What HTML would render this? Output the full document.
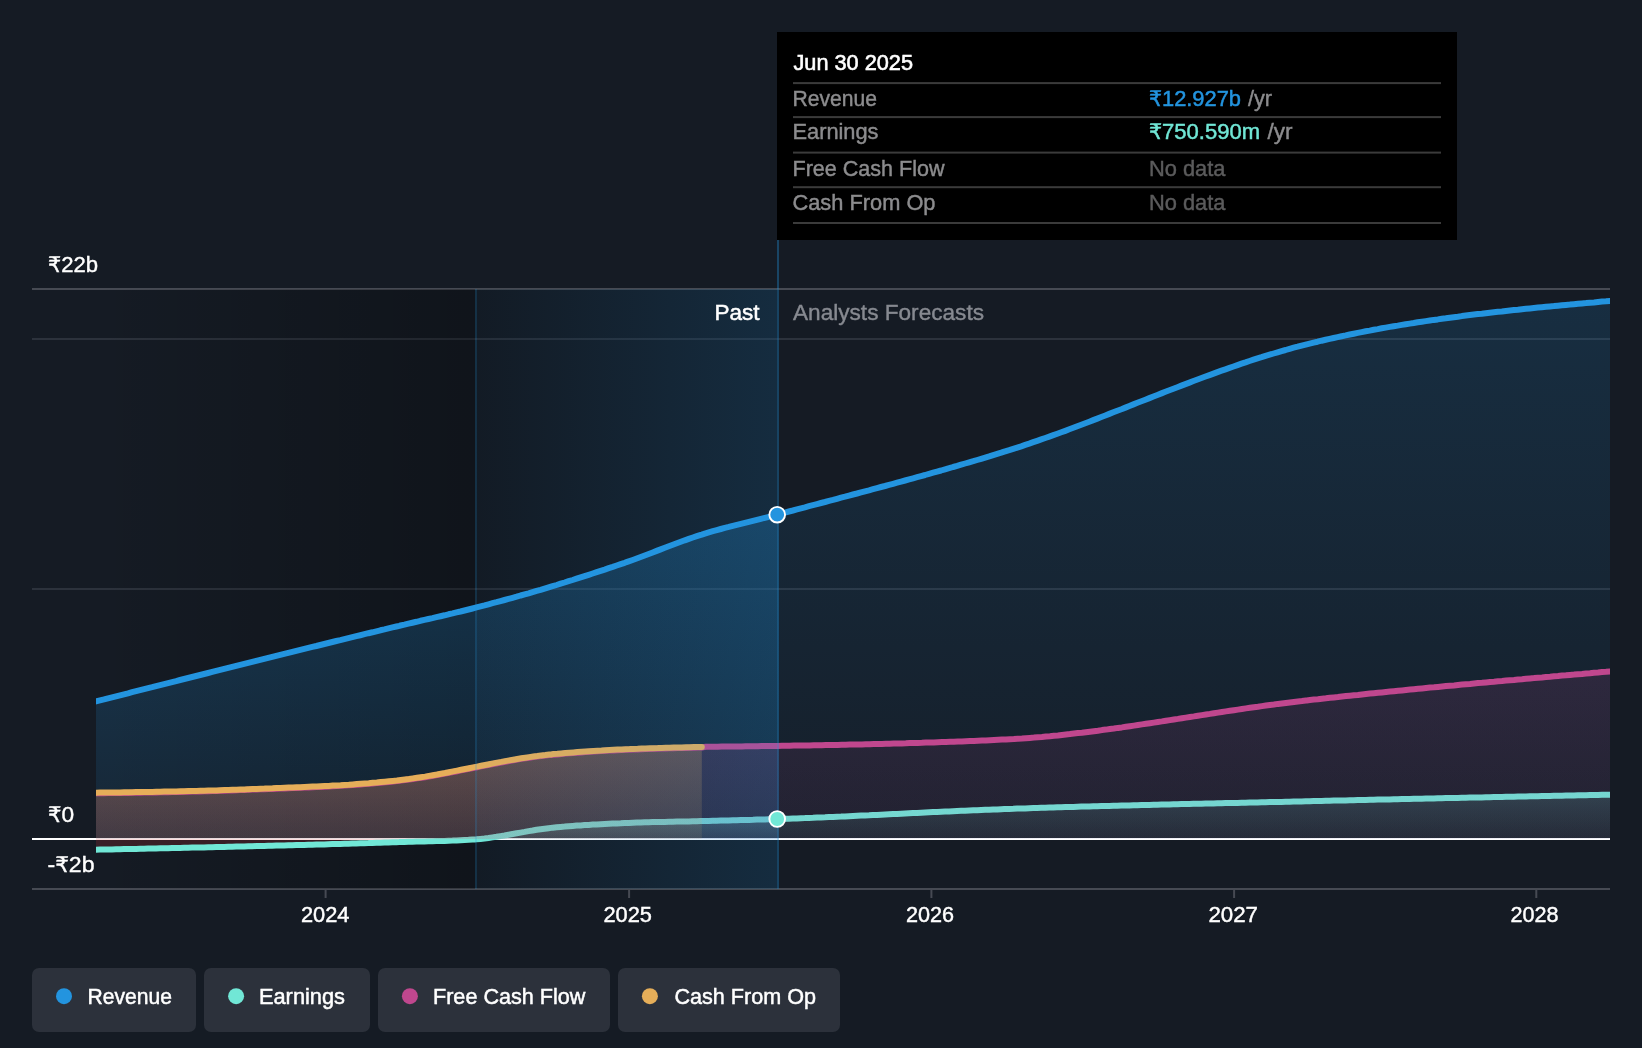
<!DOCTYPE html>
<html lang="en"><head><meta charset="utf-8"><title>Earnings and Revenue Growth Forecasts</title>
<style>html,body{margin:0;padding:0;background:#151b24;overflow:hidden}svg{display:block}text{white-space:pre}</style>
</head><body>
<svg width="1642" height="1048" viewBox="0 0 1642 1048" font-family="'Liberation Sans','DejaVu Sans',sans-serif">
<defs>
<linearGradient id="gRevP" gradientUnits="userSpaceOnUse" x1="0" y1="515" x2="0" y2="839"><stop offset="0" stop-color="#2394df" stop-opacity="0.27"/><stop offset="1" stop-color="#2394df" stop-opacity="0.09"/></linearGradient>
<linearGradient id="gRevF" gradientUnits="userSpaceOnUse" x1="0" y1="301" x2="0" y2="839"><stop offset="0" stop-color="#2394df" stop-opacity="0.155"/><stop offset="1" stop-color="#2394df" stop-opacity="0.03"/></linearGradient>
<linearGradient id="gFcfP" gradientUnits="userSpaceOnUse" x1="0" y1="747" x2="0" y2="839"><stop offset="0" stop-color="#c0478e" stop-opacity="0.2"/><stop offset="1" stop-color="#c0478e" stop-opacity="0.13"/></linearGradient>
<linearGradient id="gFcfF" gradientUnits="userSpaceOnUse" x1="0" y1="671" x2="0" y2="839"><stop offset="0" stop-color="#c0478e" stop-opacity="0.14"/><stop offset="1" stop-color="#c0478e" stop-opacity="0.07"/></linearGradient>
<linearGradient id="gOpP" gradientUnits="userSpaceOnUse" x1="0" y1="747" x2="0" y2="839"><stop offset="0" stop-color="#e6ae59" stop-opacity="0.25"/><stop offset="1" stop-color="#e6ae59" stop-opacity="0.12"/></linearGradient>
<linearGradient id="gEarnP" gradientUnits="userSpaceOnUse" x1="0" y1="819" x2="0" y2="839"><stop offset="0" stop-color="#71e7d6" stop-opacity="0.25"/><stop offset="1" stop-color="#71e7d6" stop-opacity="0.1"/></linearGradient>
<linearGradient id="gEarnF" gradientUnits="userSpaceOnUse" x1="0" y1="794" x2="0" y2="839"><stop offset="0" stop-color="#71e7d6" stop-opacity="0.17"/><stop offset="1" stop-color="#71e7d6" stop-opacity="0.05"/></linearGradient>
<linearGradient id="gPast" x1="0" y1="0" x2="1" y2="0"><stop offset="0" stop-color="#000" stop-opacity="0"/><stop offset="1" stop-color="#000" stop-opacity="0.26"/></linearGradient>
<linearGradient id="gHi" x1="0" y1="0" x2="1" y2="0"><stop offset="0" stop-color="#2394df" stop-opacity="0.03"/><stop offset="1" stop-color="#2394df" stop-opacity="0.17"/></linearGradient>
<clipPath id="cpPast"><rect x="0" y="0" width="778.5" height="1048"/></clipPath>
<clipPath id="cpFore"><rect x="778.5" y="0" width="1642" height="1048"/></clipPath>
<clipPath id="cpPastPos"><rect x="0" y="0" width="778.5" height="839"/></clipPath>
<clipPath id="cpForePos"><rect x="778.5" y="0" width="1642" height="839"/></clipPath>
<clipPath id="cpData"><rect x="96" y="0" width="1514" height="1048"/></clipPath>
<clipPath id="cpNeg"><rect x="0" y="839" width="1642" height="100"/></clipPath>
<filter id="noop" filterUnits="userSpaceOnUse" x="0" y="0" width="1642" height="1048"><feOffset dx="0" dy="0"/></filter>
</defs>
<rect width="1642" height="1048" fill="#151b24"/>
<g id="grid"><rect x="32" y="288" width="1578" height="2" fill="#464a53"/>
<rect x="32" y="338" width="1578" height="2" fill="#2c323c"/>
<rect x="32" y="588" width="1578" height="2" fill="#2c323c"/>
<rect x="32" y="888" width="1578" height="2" fill="#464a53"/>
<rect x="324.6" y="889" width="2" height="9" fill="#464a53"/>
<rect x="628.1" y="889" width="2" height="9" fill="#464a53"/>
<rect x="930.4" y="889" width="2" height="9" fill="#464a53"/>
<rect x="1233.1" y="889" width="2" height="9" fill="#464a53"/>
<rect x="1535.3" y="889" width="2" height="9" fill="#464a53"/>
</g>
<rect x="96" y="289" width="379" height="600" fill="url(#gPast)"/>
<rect x="475" y="289" width="304" height="600" fill="#000" fill-opacity="0.12"/>
<rect x="32" y="838" width="1578" height="2" fill="#ffffff"/>
<g id="earnings" clip-path="url(#cpData)">
<path d="M96.0,849.7 L100.0,849.6 L104.0,849.5 L108.0,849.5 L112.0,849.4 L116.0,849.3 L120.0,849.2 L124.0,849.1 L128.0,849.0 L132.0,849.0 L136.1,848.9 L140.1,848.8 L144.1,848.7 L148.1,848.6 L152.1,848.5 L156.1,848.4 L160.1,848.3 L164.1,848.3 L168.1,848.2 L172.1,848.1 L176.1,848.0 L180.1,847.9 L184.1,847.8 L188.1,847.7 L192.1,847.6 L196.1,847.6 L200.1,847.5 L204.1,847.4 L208.1,847.3 L212.2,847.2 L216.2,847.1 L220.2,847.0 L224.2,846.9 L228.2,846.8 L232.2,846.7 L236.2,846.6 L240.2,846.5 L244.2,846.4 L248.2,846.3 L252.2,846.2 L256.2,846.1 L260.2,846.0 L264.2,845.9 L268.2,845.8 L272.2,845.7 L276.2,845.6 L280.2,845.5 L284.2,845.4 L288.3,845.3 L292.3,845.2 L296.3,845.1 L300.3,845.0 L304.3,844.9 L308.3,844.8 L312.3,844.7 L316.3,844.6 L320.3,844.5 L324.3,844.4 L328.3,844.2 L332.3,844.1 L336.3,844.0 L340.3,843.9 L344.3,843.8 L348.3,843.7 L352.3,843.5 L356.3,843.4 L360.3,843.3 L364.4,843.2 L368.4,843.1 L372.4,842.9 L376.4,842.8 L380.4,842.7 L384.4,842.5 L388.4,842.4 L392.4,842.3 L396.4,842.2 L399.3,842.1 L400.4,842.0 L404.4,841.9 L408.4,841.8 L412.4,841.7 L416.4,841.6 L420.4,841.5 L424.4,841.4 L428.4,841.3 L432.4,841.2 L436.4,841.1 L440.5,841.0 L444.5,840.9 L448.5,840.7 L452.5,840.6 L456.5,840.4 L460.5,840.2 L464.5,840.0 L468.5,839.8 L472.5,839.5 L474.7,839.4 L476.5,839.3 L480.5,838.9 L484.5,838.5 L488.5,838.0 L492.5,837.4 L496.5,836.8 L500.5,836.1 L504.5,835.5 L508.5,834.8 L512.6,834.0 L516.6,833.3 L520.6,832.6 L524.6,831.9 L528.6,831.1 L532.6,830.5 L536.6,829.8 L540.6,829.2 L544.6,828.7 L548.6,828.2 L550.9,827.9 L552.6,827.7 L556.6,827.3 L560.6,826.9 L564.6,826.6 L568.6,826.2 L572.6,825.9 L576.6,825.6 L580.6,825.4 L584.6,825.1 L588.7,824.9 L592.7,824.6 L596.7,824.4 L600.7,824.2 L604.7,824.0 L608.7,823.8 L612.7,823.6 L616.7,823.4 L620.7,823.3 L624.7,823.1 L627.2,823.0 L628.7,822.9 L632.7,822.7 L636.7,822.6 L640.7,822.5 L644.7,822.3 L648.7,822.2 L652.7,822.1 L656.7,822.0 L660.7,821.9 L664.8,821.9 L668.8,821.8 L672.8,821.7 L676.8,821.6 L680.8,821.5 L684.8,821.5 L688.8,821.4 L692.8,821.3 L696.8,821.2 L700.8,821.1 L701.8,821.1 L704.8,821.0 L708.8,820.9 L712.8,820.8 L716.8,820.7 L720.8,820.6 L724.8,820.5 L728.8,820.4 L732.8,820.3 L736.8,820.2 L740.9,820.1 L744.9,820.0 L748.9,819.9 L752.9,819.8 L756.9,819.6 L760.9,819.5 L764.9,819.4 L768.9,819.3 L772.9,819.2 L776.9,819.1 L777.2,819.0 L780.9,818.9 L784.9,818.8 L788.9,818.7 L792.9,818.5 L796.9,818.4 L800.9,818.2 L804.9,818.1 L808.9,817.9 L812.9,817.8 L817.0,817.6 L821.0,817.4 L825.0,817.3 L829.0,817.1 L833.0,816.9 L837.0,816.7 L841.0,816.6 L845.0,816.4 L849.0,816.2 L853.0,816.0 L857.0,815.8 L861.0,815.6 L865.0,815.4 L869.0,815.3 L873.0,815.1 L877.0,814.9 L881.0,814.7 L885.0,814.5 L889.0,814.3 L893.1,814.1 L897.1,813.9 L901.1,813.7 L905.1,813.5 L909.1,813.3 L913.1,813.1 L917.1,812.9 L921.1,812.7 L925.1,812.5 L929.1,812.3 L933.1,812.1 L937.1,812.0 L941.1,811.8 L945.1,811.6 L949.1,811.4 L953.1,811.2 L957.1,811.0 L961.1,810.8 L965.1,810.7 L969.2,810.5 L973.2,810.3 L977.2,810.2 L981.2,810.0 L985.2,809.8 L989.2,809.7 L993.2,809.5 L997.2,809.4 L1001.2,809.2 L1004.2,809.1 L1005.2,809.1 L1009.2,808.9 L1013.2,808.8 L1017.2,808.6 L1021.2,808.5 L1025.2,808.4 L1029.2,808.2 L1033.2,808.1 L1037.2,808.0 L1041.2,807.8 L1045.3,807.7 L1049.3,807.6 L1053.3,807.5 L1057.3,807.3 L1061.3,807.2 L1065.3,807.1 L1069.3,807.0 L1073.3,806.9 L1077.3,806.7 L1081.3,806.6 L1085.3,806.5 L1089.3,806.4 L1093.3,806.3 L1097.3,806.2 L1101.3,806.1 L1105.3,806.0 L1109.3,805.9 L1113.3,805.8 L1117.3,805.7 L1121.4,805.6 L1125.4,805.5 L1129.4,805.4 L1133.4,805.3 L1137.4,805.2 L1141.4,805.1 L1145.4,805.0 L1149.4,804.9 L1153.4,804.8 L1157.4,804.7 L1161.4,804.6 L1165.4,804.5 L1169.4,804.4 L1173.4,804.3 L1177.4,804.2 L1181.4,804.1 L1185.4,804.0 L1189.4,803.9 L1193.4,803.8 L1197.5,803.8 L1201.5,803.7 L1205.5,803.6 L1209.5,803.5 L1213.5,803.4 L1217.5,803.3 L1221.5,803.2 L1225.5,803.1 L1229.5,803.0 L1233.5,802.9 L1237.5,802.9 L1241.5,802.8 L1245.5,802.7 L1249.5,802.6 L1253.5,802.5 L1257.5,802.4 L1261.5,802.3 L1265.5,802.2 L1269.6,802.1 L1273.6,802.1 L1277.6,802.0 L1281.6,801.9 L1285.6,801.8 L1289.6,801.7 L1293.6,801.6 L1297.6,801.5 L1301.6,801.4 L1305.6,801.3 L1306.7,801.3 L1309.6,801.2 L1313.6,801.1 L1317.6,801.0 L1321.6,800.9 L1325.6,800.8 L1329.6,800.7 L1333.6,800.6 L1337.6,800.6 L1341.6,800.5 L1345.7,800.4 L1349.7,800.3 L1353.7,800.2 L1357.7,800.1 L1361.7,800.0 L1365.7,799.9 L1369.7,799.8 L1373.7,799.7 L1377.7,799.6 L1381.7,799.5 L1385.7,799.5 L1389.7,799.4 L1393.7,799.3 L1397.7,799.2 L1401.7,799.1 L1405.7,799.0 L1409.7,798.9 L1413.7,798.8 L1417.7,798.7 L1421.8,798.7 L1425.8,798.6 L1429.8,798.5 L1433.8,798.4 L1437.8,798.3 L1441.8,798.2 L1445.8,798.1 L1449.8,798.0 L1453.8,798.0 L1457.8,797.9 L1461.8,797.8 L1465.8,797.7 L1469.8,797.6 L1473.8,797.5 L1477.8,797.4 L1481.8,797.4 L1485.8,797.3 L1489.8,797.2 L1493.8,797.1 L1497.9,797.0 L1501.9,796.9 L1505.9,796.8 L1509.9,796.8 L1513.9,796.7 L1517.9,796.6 L1521.9,796.5 L1525.9,796.4 L1529.9,796.3 L1533.9,796.3 L1537.9,796.2 L1541.9,796.1 L1545.9,796.0 L1549.9,795.9 L1553.9,795.8 L1557.9,795.8 L1561.9,795.7 L1565.9,795.6 L1569.9,795.5 L1574.0,795.4 L1578.0,795.3 L1582.0,795.3 L1586.0,795.2 L1590.0,795.1 L1594.0,795.0 L1598.0,794.9 L1602.0,794.8 L1606.0,794.8 L1610.0,794.7 L1610.0,839 L96.0,839 Z" fill="url(#gEarnP)" clip-path="url(#cpPastPos)"/>
<path d="M96.0,849.7 L100.0,849.6 L104.0,849.5 L108.0,849.5 L112.0,849.4 L116.0,849.3 L120.0,849.2 L124.0,849.1 L128.0,849.0 L132.0,849.0 L136.1,848.9 L140.1,848.8 L144.1,848.7 L148.1,848.6 L152.1,848.5 L156.1,848.4 L160.1,848.3 L164.1,848.3 L168.1,848.2 L172.1,848.1 L176.1,848.0 L180.1,847.9 L184.1,847.8 L188.1,847.7 L192.1,847.6 L196.1,847.6 L200.1,847.5 L204.1,847.4 L208.1,847.3 L212.2,847.2 L216.2,847.1 L220.2,847.0 L224.2,846.9 L228.2,846.8 L232.2,846.7 L236.2,846.6 L240.2,846.5 L244.2,846.4 L248.2,846.3 L252.2,846.2 L256.2,846.1 L260.2,846.0 L264.2,845.9 L268.2,845.8 L272.2,845.7 L276.2,845.6 L280.2,845.5 L284.2,845.4 L288.3,845.3 L292.3,845.2 L296.3,845.1 L300.3,845.0 L304.3,844.9 L308.3,844.8 L312.3,844.7 L316.3,844.6 L320.3,844.5 L324.3,844.4 L328.3,844.2 L332.3,844.1 L336.3,844.0 L340.3,843.9 L344.3,843.8 L348.3,843.7 L352.3,843.5 L356.3,843.4 L360.3,843.3 L364.4,843.2 L368.4,843.1 L372.4,842.9 L376.4,842.8 L380.4,842.7 L384.4,842.5 L388.4,842.4 L392.4,842.3 L396.4,842.2 L399.3,842.1 L400.4,842.0 L404.4,841.9 L408.4,841.8 L412.4,841.7 L416.4,841.6 L420.4,841.5 L424.4,841.4 L428.4,841.3 L432.4,841.2 L436.4,841.1 L440.5,841.0 L444.5,840.9 L448.5,840.7 L452.5,840.6 L456.5,840.4 L460.5,840.2 L464.5,840.0 L468.5,839.8 L472.5,839.5 L474.7,839.4 L476.5,839.3 L480.5,838.9 L484.5,838.5 L488.5,838.0 L492.5,837.4 L496.5,836.8 L500.5,836.1 L504.5,835.5 L508.5,834.8 L512.6,834.0 L516.6,833.3 L520.6,832.6 L524.6,831.9 L528.6,831.1 L532.6,830.5 L536.6,829.8 L540.6,829.2 L544.6,828.7 L548.6,828.2 L550.9,827.9 L552.6,827.7 L556.6,827.3 L560.6,826.9 L564.6,826.6 L568.6,826.2 L572.6,825.9 L576.6,825.6 L580.6,825.4 L584.6,825.1 L588.7,824.9 L592.7,824.6 L596.7,824.4 L600.7,824.2 L604.7,824.0 L608.7,823.8 L612.7,823.6 L616.7,823.4 L620.7,823.3 L624.7,823.1 L627.2,823.0 L628.7,822.9 L632.7,822.7 L636.7,822.6 L640.7,822.5 L644.7,822.3 L648.7,822.2 L652.7,822.1 L656.7,822.0 L660.7,821.9 L664.8,821.9 L668.8,821.8 L672.8,821.7 L676.8,821.6 L680.8,821.5 L684.8,821.5 L688.8,821.4 L692.8,821.3 L696.8,821.2 L700.8,821.1 L701.8,821.1 L704.8,821.0 L708.8,820.9 L712.8,820.8 L716.8,820.7 L720.8,820.6 L724.8,820.5 L728.8,820.4 L732.8,820.3 L736.8,820.2 L740.9,820.1 L744.9,820.0 L748.9,819.9 L752.9,819.8 L756.9,819.6 L760.9,819.5 L764.9,819.4 L768.9,819.3 L772.9,819.2 L776.9,819.1 L777.2,819.0 L780.9,818.9 L784.9,818.8 L788.9,818.7 L792.9,818.5 L796.9,818.4 L800.9,818.2 L804.9,818.1 L808.9,817.9 L812.9,817.8 L817.0,817.6 L821.0,817.4 L825.0,817.3 L829.0,817.1 L833.0,816.9 L837.0,816.7 L841.0,816.6 L845.0,816.4 L849.0,816.2 L853.0,816.0 L857.0,815.8 L861.0,815.6 L865.0,815.4 L869.0,815.3 L873.0,815.1 L877.0,814.9 L881.0,814.7 L885.0,814.5 L889.0,814.3 L893.1,814.1 L897.1,813.9 L901.1,813.7 L905.1,813.5 L909.1,813.3 L913.1,813.1 L917.1,812.9 L921.1,812.7 L925.1,812.5 L929.1,812.3 L933.1,812.1 L937.1,812.0 L941.1,811.8 L945.1,811.6 L949.1,811.4 L953.1,811.2 L957.1,811.0 L961.1,810.8 L965.1,810.7 L969.2,810.5 L973.2,810.3 L977.2,810.2 L981.2,810.0 L985.2,809.8 L989.2,809.7 L993.2,809.5 L997.2,809.4 L1001.2,809.2 L1004.2,809.1 L1005.2,809.1 L1009.2,808.9 L1013.2,808.8 L1017.2,808.6 L1021.2,808.5 L1025.2,808.4 L1029.2,808.2 L1033.2,808.1 L1037.2,808.0 L1041.2,807.8 L1045.3,807.7 L1049.3,807.6 L1053.3,807.5 L1057.3,807.3 L1061.3,807.2 L1065.3,807.1 L1069.3,807.0 L1073.3,806.9 L1077.3,806.7 L1081.3,806.6 L1085.3,806.5 L1089.3,806.4 L1093.3,806.3 L1097.3,806.2 L1101.3,806.1 L1105.3,806.0 L1109.3,805.9 L1113.3,805.8 L1117.3,805.7 L1121.4,805.6 L1125.4,805.5 L1129.4,805.4 L1133.4,805.3 L1137.4,805.2 L1141.4,805.1 L1145.4,805.0 L1149.4,804.9 L1153.4,804.8 L1157.4,804.7 L1161.4,804.6 L1165.4,804.5 L1169.4,804.4 L1173.4,804.3 L1177.4,804.2 L1181.4,804.1 L1185.4,804.0 L1189.4,803.9 L1193.4,803.8 L1197.5,803.8 L1201.5,803.7 L1205.5,803.6 L1209.5,803.5 L1213.5,803.4 L1217.5,803.3 L1221.5,803.2 L1225.5,803.1 L1229.5,803.0 L1233.5,802.9 L1237.5,802.9 L1241.5,802.8 L1245.5,802.7 L1249.5,802.6 L1253.5,802.5 L1257.5,802.4 L1261.5,802.3 L1265.5,802.2 L1269.6,802.1 L1273.6,802.1 L1277.6,802.0 L1281.6,801.9 L1285.6,801.8 L1289.6,801.7 L1293.6,801.6 L1297.6,801.5 L1301.6,801.4 L1305.6,801.3 L1306.7,801.3 L1309.6,801.2 L1313.6,801.1 L1317.6,801.0 L1321.6,800.9 L1325.6,800.8 L1329.6,800.7 L1333.6,800.6 L1337.6,800.6 L1341.6,800.5 L1345.7,800.4 L1349.7,800.3 L1353.7,800.2 L1357.7,800.1 L1361.7,800.0 L1365.7,799.9 L1369.7,799.8 L1373.7,799.7 L1377.7,799.6 L1381.7,799.5 L1385.7,799.5 L1389.7,799.4 L1393.7,799.3 L1397.7,799.2 L1401.7,799.1 L1405.7,799.0 L1409.7,798.9 L1413.7,798.8 L1417.7,798.7 L1421.8,798.7 L1425.8,798.6 L1429.8,798.5 L1433.8,798.4 L1437.8,798.3 L1441.8,798.2 L1445.8,798.1 L1449.8,798.0 L1453.8,798.0 L1457.8,797.9 L1461.8,797.8 L1465.8,797.7 L1469.8,797.6 L1473.8,797.5 L1477.8,797.4 L1481.8,797.4 L1485.8,797.3 L1489.8,797.2 L1493.8,797.1 L1497.9,797.0 L1501.9,796.9 L1505.9,796.8 L1509.9,796.8 L1513.9,796.7 L1517.9,796.6 L1521.9,796.5 L1525.9,796.4 L1529.9,796.3 L1533.9,796.3 L1537.9,796.2 L1541.9,796.1 L1545.9,796.0 L1549.9,795.9 L1553.9,795.8 L1557.9,795.8 L1561.9,795.7 L1565.9,795.6 L1569.9,795.5 L1574.0,795.4 L1578.0,795.3 L1582.0,795.3 L1586.0,795.2 L1590.0,795.1 L1594.0,795.0 L1598.0,794.9 L1602.0,794.8 L1606.0,794.8 L1610.0,794.7 L1610.0,839 L96.0,839 Z" fill="url(#gEarnF)" clip-path="url(#cpForePos)"/>
<path d="M96.0,849.7 L100.0,849.6 L104.0,849.5 L108.0,849.5 L112.0,849.4 L116.0,849.3 L120.0,849.2 L124.0,849.1 L128.0,849.0 L132.0,849.0 L136.1,848.9 L140.1,848.8 L144.1,848.7 L148.1,848.6 L152.1,848.5 L156.1,848.4 L160.1,848.3 L164.1,848.3 L168.1,848.2 L172.1,848.1 L176.1,848.0 L180.1,847.9 L184.1,847.8 L188.1,847.7 L192.1,847.6 L196.1,847.6 L200.1,847.5 L204.1,847.4 L208.1,847.3 L212.2,847.2 L216.2,847.1 L220.2,847.0 L224.2,846.9 L228.2,846.8 L232.2,846.7 L236.2,846.6 L240.2,846.5 L244.2,846.4 L248.2,846.3 L252.2,846.2 L256.2,846.1 L260.2,846.0 L264.2,845.9 L268.2,845.8 L272.2,845.7 L276.2,845.6 L280.2,845.5 L284.2,845.4 L288.3,845.3 L292.3,845.2 L296.3,845.1 L300.3,845.0 L304.3,844.9 L308.3,844.8 L312.3,844.7 L316.3,844.6 L320.3,844.5 L324.3,844.4 L328.3,844.2 L332.3,844.1 L336.3,844.0 L340.3,843.9 L344.3,843.8 L348.3,843.7 L352.3,843.5 L356.3,843.4 L360.3,843.3 L364.4,843.2 L368.4,843.1 L372.4,842.9 L376.4,842.8 L380.4,842.7 L384.4,842.5 L388.4,842.4 L392.4,842.3 L396.4,842.2 L399.3,842.1 L400.4,842.0 L404.4,841.9 L408.4,841.8 L412.4,841.7 L416.4,841.6 L420.4,841.5 L424.4,841.4 L428.4,841.3 L432.4,841.2 L436.4,841.1 L440.5,841.0 L444.5,840.9 L448.5,840.7 L452.5,840.6 L456.5,840.4 L460.5,840.2 L464.5,840.0 L468.5,839.8 L472.5,839.5 L474.7,839.4 L476.5,839.3 L480.5,838.9 L484.5,838.5 L488.5,838.0 L492.5,837.4 L496.5,836.8 L500.5,836.1 L504.5,835.5 L508.5,834.8 L512.6,834.0 L516.6,833.3 L520.6,832.6 L524.6,831.9 L528.6,831.1 L532.6,830.5 L536.6,829.8 L540.6,829.2 L544.6,828.7 L548.6,828.2 L550.9,827.9 L552.6,827.7 L556.6,827.3 L560.6,826.9 L564.6,826.6 L568.6,826.2 L572.6,825.9 L576.6,825.6 L580.6,825.4 L584.6,825.1 L588.7,824.9 L592.7,824.6 L596.7,824.4 L600.7,824.2 L604.7,824.0 L608.7,823.8 L612.7,823.6 L616.7,823.4 L620.7,823.3 L624.7,823.1 L627.2,823.0 L628.7,822.9 L632.7,822.7 L636.7,822.6 L640.7,822.5 L644.7,822.3 L648.7,822.2 L652.7,822.1 L656.7,822.0 L660.7,821.9 L664.8,821.9 L668.8,821.8 L672.8,821.7 L676.8,821.6 L680.8,821.5 L684.8,821.5 L688.8,821.4 L692.8,821.3 L696.8,821.2 L700.8,821.1 L701.8,821.1 L704.8,821.0 L708.8,820.9 L712.8,820.8 L716.8,820.7 L720.8,820.6 L724.8,820.5 L728.8,820.4 L732.8,820.3 L736.8,820.2 L740.9,820.1 L744.9,820.0 L748.9,819.9 L752.9,819.8 L756.9,819.6 L760.9,819.5 L764.9,819.4 L768.9,819.3 L772.9,819.2 L776.9,819.1 L777.2,819.0 L780.9,818.9 L784.9,818.8 L788.9,818.7 L792.9,818.5 L796.9,818.4 L800.9,818.2 L804.9,818.1 L808.9,817.9 L812.9,817.8 L817.0,817.6 L821.0,817.4 L825.0,817.3 L829.0,817.1 L833.0,816.9 L837.0,816.7 L841.0,816.6 L845.0,816.4 L849.0,816.2 L853.0,816.0 L857.0,815.8 L861.0,815.6 L865.0,815.4 L869.0,815.3 L873.0,815.1 L877.0,814.9 L881.0,814.7 L885.0,814.5 L889.0,814.3 L893.1,814.1 L897.1,813.9 L901.1,813.7 L905.1,813.5 L909.1,813.3 L913.1,813.1 L917.1,812.9 L921.1,812.7 L925.1,812.5 L929.1,812.3 L933.1,812.1 L937.1,812.0 L941.1,811.8 L945.1,811.6 L949.1,811.4 L953.1,811.2 L957.1,811.0 L961.1,810.8 L965.1,810.7 L969.2,810.5 L973.2,810.3 L977.2,810.2 L981.2,810.0 L985.2,809.8 L989.2,809.7 L993.2,809.5 L997.2,809.4 L1001.2,809.2 L1004.2,809.1 L1005.2,809.1 L1009.2,808.9 L1013.2,808.8 L1017.2,808.6 L1021.2,808.5 L1025.2,808.4 L1029.2,808.2 L1033.2,808.1 L1037.2,808.0 L1041.2,807.8 L1045.3,807.7 L1049.3,807.6 L1053.3,807.5 L1057.3,807.3 L1061.3,807.2 L1065.3,807.1 L1069.3,807.0 L1073.3,806.9 L1077.3,806.7 L1081.3,806.6 L1085.3,806.5 L1089.3,806.4 L1093.3,806.3 L1097.3,806.2 L1101.3,806.1 L1105.3,806.0 L1109.3,805.9 L1113.3,805.8 L1117.3,805.7 L1121.4,805.6 L1125.4,805.5 L1129.4,805.4 L1133.4,805.3 L1137.4,805.2 L1141.4,805.1 L1145.4,805.0 L1149.4,804.9 L1153.4,804.8 L1157.4,804.7 L1161.4,804.6 L1165.4,804.5 L1169.4,804.4 L1173.4,804.3 L1177.4,804.2 L1181.4,804.1 L1185.4,804.0 L1189.4,803.9 L1193.4,803.8 L1197.5,803.8 L1201.5,803.7 L1205.5,803.6 L1209.5,803.5 L1213.5,803.4 L1217.5,803.3 L1221.5,803.2 L1225.5,803.1 L1229.5,803.0 L1233.5,802.9 L1237.5,802.9 L1241.5,802.8 L1245.5,802.7 L1249.5,802.6 L1253.5,802.5 L1257.5,802.4 L1261.5,802.3 L1265.5,802.2 L1269.6,802.1 L1273.6,802.1 L1277.6,802.0 L1281.6,801.9 L1285.6,801.8 L1289.6,801.7 L1293.6,801.6 L1297.6,801.5 L1301.6,801.4 L1305.6,801.3 L1306.7,801.3 L1309.6,801.2 L1313.6,801.1 L1317.6,801.0 L1321.6,800.9 L1325.6,800.8 L1329.6,800.7 L1333.6,800.6 L1337.6,800.6 L1341.6,800.5 L1345.7,800.4 L1349.7,800.3 L1353.7,800.2 L1357.7,800.1 L1361.7,800.0 L1365.7,799.9 L1369.7,799.8 L1373.7,799.7 L1377.7,799.6 L1381.7,799.5 L1385.7,799.5 L1389.7,799.4 L1393.7,799.3 L1397.7,799.2 L1401.7,799.1 L1405.7,799.0 L1409.7,798.9 L1413.7,798.8 L1417.7,798.7 L1421.8,798.7 L1425.8,798.6 L1429.8,798.5 L1433.8,798.4 L1437.8,798.3 L1441.8,798.2 L1445.8,798.1 L1449.8,798.0 L1453.8,798.0 L1457.8,797.9 L1461.8,797.8 L1465.8,797.7 L1469.8,797.6 L1473.8,797.5 L1477.8,797.4 L1481.8,797.4 L1485.8,797.3 L1489.8,797.2 L1493.8,797.1 L1497.9,797.0 L1501.9,796.9 L1505.9,796.8 L1509.9,796.8 L1513.9,796.7 L1517.9,796.6 L1521.9,796.5 L1525.9,796.4 L1529.9,796.3 L1533.9,796.3 L1537.9,796.2 L1541.9,796.1 L1545.9,796.0 L1549.9,795.9 L1553.9,795.8 L1557.9,795.8 L1561.9,795.7 L1565.9,795.6 L1569.9,795.5 L1574.0,795.4 L1578.0,795.3 L1582.0,795.3 L1586.0,795.2 L1590.0,795.1 L1594.0,795.0 L1598.0,794.9 L1602.0,794.8 L1606.0,794.8 L1610.0,794.7 L1610.0,839 L96.0,839 Z" fill="#e0393e" fill-opacity="0.18" clip-path="url(#cpNeg)"/>
<path d="M92.0,849.8 L96.0,849.7 L100.0,849.6 L104.0,849.5 L108.0,849.5 L112.0,849.4 L116.0,849.3 L120.0,849.2 L124.0,849.1 L128.0,849.0 L132.0,849.0 L136.1,848.9 L140.1,848.8 L144.1,848.7 L148.1,848.6 L152.1,848.5 L156.1,848.4 L160.1,848.3 L164.1,848.3 L168.1,848.2 L172.1,848.1 L176.1,848.0 L180.1,847.9 L184.1,847.8 L188.1,847.7 L192.1,847.6 L196.1,847.6 L200.1,847.5 L204.1,847.4 L208.1,847.3 L212.2,847.2 L216.2,847.1 L220.2,847.0 L224.2,846.9 L228.2,846.8 L232.2,846.7 L236.2,846.6 L240.2,846.5 L244.2,846.4 L248.2,846.3 L252.2,846.2 L256.2,846.1 L260.2,846.0 L264.2,845.9 L268.2,845.8 L272.2,845.7 L276.2,845.6 L280.2,845.5 L284.2,845.4 L288.3,845.3 L292.3,845.2 L296.3,845.1 L300.3,845.0 L304.3,844.9 L308.3,844.8 L312.3,844.7 L316.3,844.6 L320.3,844.5 L324.3,844.4 L328.3,844.2 L332.3,844.1 L336.3,844.0 L340.3,843.9 L344.3,843.8 L348.3,843.7 L352.3,843.5 L356.3,843.4 L360.3,843.3 L364.4,843.2 L368.4,843.1 L372.4,842.9 L376.4,842.8 L380.4,842.7 L384.4,842.5 L388.4,842.4 L392.4,842.3 L396.4,842.2 L399.3,842.1 L400.4,842.0 L404.4,841.9 L408.4,841.8 L412.4,841.7 L416.4,841.6 L420.4,841.5 L424.4,841.4 L428.4,841.3 L432.4,841.2 L436.4,841.1 L440.5,841.0 L444.5,840.9 L448.5,840.7 L452.5,840.6 L456.5,840.4 L460.5,840.2 L464.5,840.0 L468.5,839.8 L472.5,839.5 L474.7,839.4 L476.5,839.3 L480.5,838.9 L484.5,838.5 L488.5,838.0 L492.5,837.4 L496.5,836.8 L500.5,836.1 L504.5,835.5 L508.5,834.8 L512.6,834.0 L516.6,833.3 L520.6,832.6 L524.6,831.9 L528.6,831.1 L532.6,830.5 L536.6,829.8 L540.6,829.2 L544.6,828.7 L548.6,828.2 L550.9,827.9 L552.6,827.7 L556.6,827.3 L560.6,826.9 L564.6,826.6 L568.6,826.2 L572.6,825.9 L576.6,825.6 L580.6,825.4 L584.6,825.1 L588.7,824.9 L592.7,824.6 L596.7,824.4 L600.7,824.2 L604.7,824.0 L608.7,823.8 L612.7,823.6 L616.7,823.4 L620.7,823.3 L624.7,823.1 L627.2,823.0 L628.7,822.9 L632.7,822.7 L636.7,822.6 L640.7,822.5 L644.7,822.3 L648.7,822.2 L652.7,822.1 L656.7,822.0 L660.7,821.9 L664.8,821.9 L668.8,821.8 L672.8,821.7 L676.8,821.6 L680.8,821.5 L684.8,821.5 L688.8,821.4 L692.8,821.3 L696.8,821.2 L700.8,821.1 L701.8,821.1 L704.8,821.0 L708.8,820.9 L712.8,820.8 L716.8,820.7 L720.8,820.6 L724.8,820.5 L728.8,820.4 L732.8,820.3 L736.8,820.2 L740.9,820.1 L744.9,820.0 L748.9,819.9 L752.9,819.8 L756.9,819.6 L760.9,819.5 L764.9,819.4 L768.9,819.3 L772.9,819.2 L776.9,819.1 L777.2,819.0 L780.9,818.9 L784.9,818.8 L788.9,818.7 L792.9,818.5 L796.9,818.4 L800.9,818.2 L804.9,818.1 L808.9,817.9 L812.9,817.8 L817.0,817.6 L821.0,817.4 L825.0,817.3 L829.0,817.1 L833.0,816.9 L837.0,816.7 L841.0,816.6 L845.0,816.4 L849.0,816.2 L853.0,816.0 L857.0,815.8 L861.0,815.6 L865.0,815.4 L869.0,815.3 L873.0,815.1 L877.0,814.9 L881.0,814.7 L885.0,814.5 L889.0,814.3 L893.1,814.1 L897.1,813.9 L901.1,813.7 L905.1,813.5 L909.1,813.3 L913.1,813.1 L917.1,812.9 L921.1,812.7 L925.1,812.5 L929.1,812.3 L933.1,812.1 L937.1,812.0 L941.1,811.8 L945.1,811.6 L949.1,811.4 L953.1,811.2 L957.1,811.0 L961.1,810.8 L965.1,810.7 L969.2,810.5 L973.2,810.3 L977.2,810.2 L981.2,810.0 L985.2,809.8 L989.2,809.7 L993.2,809.5 L997.2,809.4 L1001.2,809.2 L1004.2,809.1 L1005.2,809.1 L1009.2,808.9 L1013.2,808.8 L1017.2,808.6 L1021.2,808.5 L1025.2,808.4 L1029.2,808.2 L1033.2,808.1 L1037.2,808.0 L1041.2,807.8 L1045.3,807.7 L1049.3,807.6 L1053.3,807.5 L1057.3,807.3 L1061.3,807.2 L1065.3,807.1 L1069.3,807.0 L1073.3,806.9 L1077.3,806.7 L1081.3,806.6 L1085.3,806.5 L1089.3,806.4 L1093.3,806.3 L1097.3,806.2 L1101.3,806.1 L1105.3,806.0 L1109.3,805.9 L1113.3,805.8 L1117.3,805.7 L1121.4,805.6 L1125.4,805.5 L1129.4,805.4 L1133.4,805.3 L1137.4,805.2 L1141.4,805.1 L1145.4,805.0 L1149.4,804.9 L1153.4,804.8 L1157.4,804.7 L1161.4,804.6 L1165.4,804.5 L1169.4,804.4 L1173.4,804.3 L1177.4,804.2 L1181.4,804.1 L1185.4,804.0 L1189.4,803.9 L1193.4,803.8 L1197.5,803.8 L1201.5,803.7 L1205.5,803.6 L1209.5,803.5 L1213.5,803.4 L1217.5,803.3 L1221.5,803.2 L1225.5,803.1 L1229.5,803.0 L1233.5,802.9 L1237.5,802.9 L1241.5,802.8 L1245.5,802.7 L1249.5,802.6 L1253.5,802.5 L1257.5,802.4 L1261.5,802.3 L1265.5,802.2 L1269.6,802.1 L1273.6,802.1 L1277.6,802.0 L1281.6,801.9 L1285.6,801.8 L1289.6,801.7 L1293.6,801.6 L1297.6,801.5 L1301.6,801.4 L1305.6,801.3 L1306.7,801.3 L1309.6,801.2 L1313.6,801.1 L1317.6,801.0 L1321.6,800.9 L1325.6,800.8 L1329.6,800.7 L1333.6,800.6 L1337.6,800.6 L1341.6,800.5 L1345.7,800.4 L1349.7,800.3 L1353.7,800.2 L1357.7,800.1 L1361.7,800.0 L1365.7,799.9 L1369.7,799.8 L1373.7,799.7 L1377.7,799.6 L1381.7,799.5 L1385.7,799.5 L1389.7,799.4 L1393.7,799.3 L1397.7,799.2 L1401.7,799.1 L1405.7,799.0 L1409.7,798.9 L1413.7,798.8 L1417.7,798.7 L1421.8,798.7 L1425.8,798.6 L1429.8,798.5 L1433.8,798.4 L1437.8,798.3 L1441.8,798.2 L1445.8,798.1 L1449.8,798.0 L1453.8,798.0 L1457.8,797.9 L1461.8,797.8 L1465.8,797.7 L1469.8,797.6 L1473.8,797.5 L1477.8,797.4 L1481.8,797.4 L1485.8,797.3 L1489.8,797.2 L1493.8,797.1 L1497.9,797.0 L1501.9,796.9 L1505.9,796.8 L1509.9,796.8 L1513.9,796.7 L1517.9,796.6 L1521.9,796.5 L1525.9,796.4 L1529.9,796.3 L1533.9,796.3 L1537.9,796.2 L1541.9,796.1 L1545.9,796.0 L1549.9,795.9 L1553.9,795.8 L1557.9,795.8 L1561.9,795.7 L1565.9,795.6 L1569.9,795.5 L1574.0,795.4 L1578.0,795.3 L1582.0,795.3 L1586.0,795.2 L1590.0,795.1 L1594.0,795.0 L1598.0,794.9 L1602.0,794.8 L1606.0,794.8 L1610.0,794.7 L1614.0,794.6" stroke="#71e7d6" fill="none" stroke-width="6" stroke-linejoin="round"/>
</g>
<g id="areas">
<path d="M96.0,701.4 L100.0,700.4 L104.0,699.4 L108.0,698.3 L112.0,697.3 L116.0,696.3 L120.0,695.3 L124.0,694.3 L128.0,693.3 L132.0,692.2 L136.1,691.2 L140.1,690.2 L144.1,689.2 L148.1,688.2 L152.1,687.2 L156.1,686.1 L160.1,685.1 L164.1,684.1 L168.1,683.1 L172.1,682.1 L176.1,681.1 L180.1,680.0 L184.1,679.0 L188.1,678.0 L192.1,677.0 L196.1,676.0 L200.1,675.0 L204.1,674.0 L208.1,673.0 L212.2,671.9 L216.2,670.9 L220.2,669.9 L224.2,668.9 L228.2,667.9 L232.2,666.9 L236.2,665.9 L240.2,664.9 L244.2,663.9 L248.2,662.9 L252.2,661.9 L256.2,660.9 L260.2,659.9 L264.2,658.9 L268.2,657.9 L272.2,656.9 L276.2,655.9 L280.2,654.9 L284.2,653.9 L288.3,652.9 L292.3,651.9 L296.3,650.9 L300.3,649.9 L304.3,648.9 L308.3,647.9 L312.3,646.9 L316.3,646.0 L320.3,645.0 L324.3,644.0 L328.3,643.0 L332.3,642.0 L336.3,641.0 L340.3,640.1 L344.3,639.1 L348.3,638.1 L352.3,637.1 L356.3,636.1 L360.3,635.2 L364.4,634.2 L368.4,633.2 L372.4,632.3 L376.4,631.3 L380.4,630.3 L384.4,629.4 L388.4,628.4 L392.4,627.4 L396.4,626.5 L399.3,625.8 L400.4,625.5 L404.4,624.6 L408.4,623.6 L412.4,622.7 L416.4,621.8 L420.4,620.8 L424.4,619.9 L428.4,619.0 L432.4,618.1 L436.4,617.1 L440.5,616.2 L444.5,615.3 L448.5,614.3 L452.5,613.4 L456.5,612.4 L460.5,611.5 L464.5,610.5 L468.5,609.5 L472.5,608.5 L474.7,607.9 L476.5,607.4 L480.5,606.4 L484.5,605.4 L488.5,604.3 L492.5,603.2 L496.5,602.2 L500.5,601.1 L504.5,600.0 L508.5,598.9 L512.6,597.8 L516.6,596.7 L520.6,595.5 L524.6,594.4 L528.6,593.3 L532.6,592.1 L536.6,590.9 L540.6,589.8 L544.6,588.6 L548.6,587.4 L550.9,586.7 L552.6,586.2 L556.6,585.0 L560.6,583.7 L564.6,582.5 L568.6,581.2 L572.6,580.0 L576.6,578.7 L580.6,577.4 L584.6,576.1 L588.7,574.8 L592.7,573.5 L596.7,572.2 L600.7,570.9 L604.7,569.6 L608.7,568.2 L612.7,566.9 L616.7,565.5 L620.7,564.1 L624.7,562.8 L627.2,561.9 L628.7,561.4 L632.7,560.0 L636.7,558.5 L640.7,557.0 L644.7,555.5 L648.7,554.0 L652.7,552.5 L656.7,550.9 L660.7,549.4 L664.8,547.8 L668.8,546.3 L672.8,544.8 L676.8,543.3 L680.8,541.8 L684.8,540.3 L688.8,538.9 L692.8,537.5 L696.8,536.2 L700.8,534.9 L701.8,534.6 L704.8,533.6 L708.8,532.4 L712.8,531.2 L716.8,530.1 L720.8,529.0 L724.8,527.9 L728.8,526.9 L732.8,525.8 L736.8,524.8 L740.9,523.8 L744.9,522.8 L748.9,521.8 L752.9,520.8 L756.9,519.8 L760.9,518.8 L764.9,517.8 L768.9,516.8 L772.9,515.8 L776.9,514.7 L777.2,514.7 L780.9,513.7 L784.9,512.6 L788.9,511.5 L792.9,510.5 L796.9,509.4 L800.9,508.3 L804.9,507.3 L808.9,506.2 L812.9,505.2 L817.0,504.1 L821.0,503.0 L825.0,502.0 L829.0,500.9 L833.0,499.9 L837.0,498.8 L841.0,497.7 L845.0,496.7 L849.0,495.6 L853.0,494.5 L857.0,493.5 L861.0,492.4 L865.0,491.3 L869.0,490.3 L873.0,489.2 L877.0,488.1 L881.0,487.0 L885.0,486.0 L889.0,484.9 L893.1,483.8 L897.1,482.7 L901.1,481.6 L905.1,480.5 L909.1,479.4 L913.1,478.3 L917.1,477.2 L921.1,476.1 L925.1,475.0 L929.1,473.8 L933.1,472.7 L937.1,471.6 L941.1,470.5 L945.1,469.3 L949.1,468.2 L953.1,467.0 L957.1,465.9 L961.1,464.7 L965.1,463.5 L969.2,462.3 L973.2,461.2 L977.2,460.0 L981.2,458.8 L985.2,457.6 L989.2,456.4 L993.2,455.1 L997.2,453.9 L1001.2,452.7 L1004.2,451.7 L1005.2,451.4 L1009.2,450.2 L1013.2,448.9 L1017.2,447.6 L1021.2,446.3 L1025.2,444.9 L1029.2,443.6 L1033.2,442.2 L1037.2,440.8 L1041.2,439.4 L1045.3,438.0 L1049.3,436.6 L1053.3,435.2 L1057.3,433.7 L1061.3,432.2 L1065.3,430.8 L1069.3,429.3 L1073.3,427.8 L1077.3,426.2 L1081.3,424.7 L1085.3,423.2 L1089.3,421.7 L1093.3,420.1 L1097.3,418.6 L1101.3,417.0 L1105.3,415.5 L1109.3,413.9 L1113.3,412.3 L1117.3,410.7 L1121.4,409.2 L1125.4,407.6 L1129.4,406.0 L1133.4,404.4 L1137.4,402.8 L1141.4,401.3 L1145.4,399.7 L1149.4,398.1 L1153.4,396.5 L1157.4,395.0 L1161.4,393.4 L1165.4,391.8 L1169.4,390.3 L1173.4,388.7 L1177.4,387.2 L1181.4,385.6 L1185.4,384.1 L1189.4,382.6 L1193.4,381.0 L1197.5,379.5 L1201.5,378.0 L1205.5,376.5 L1209.5,375.1 L1213.5,373.6 L1217.5,372.1 L1221.5,370.7 L1225.5,369.3 L1229.5,367.9 L1233.5,366.5 L1237.5,365.1 L1241.5,363.7 L1245.5,362.4 L1249.5,361.0 L1253.5,359.7 L1257.5,358.4 L1261.5,357.2 L1265.5,355.9 L1269.6,354.7 L1273.6,353.5 L1277.6,352.3 L1281.6,351.1 L1285.6,350.0 L1289.6,348.8 L1293.6,347.7 L1297.6,346.7 L1301.6,345.6 L1305.6,344.6 L1306.7,344.3 L1309.6,343.6 L1313.6,342.6 L1317.6,341.7 L1321.6,340.7 L1325.6,339.8 L1329.6,338.9 L1333.6,338.0 L1337.6,337.1 L1341.6,336.2 L1345.7,335.4 L1349.7,334.5 L1353.7,333.7 L1357.7,332.9 L1361.7,332.1 L1365.7,331.3 L1369.7,330.6 L1373.7,329.8 L1377.7,329.1 L1381.7,328.3 L1385.7,327.6 L1389.7,326.9 L1393.7,326.2 L1397.7,325.6 L1401.7,324.9 L1405.7,324.2 L1409.7,323.6 L1413.7,323.0 L1417.7,322.3 L1421.8,321.7 L1425.8,321.1 L1429.8,320.5 L1433.8,319.9 L1437.8,319.4 L1441.8,318.8 L1445.8,318.3 L1449.8,317.7 L1453.8,317.2 L1457.8,316.7 L1461.8,316.1 L1465.8,315.6 L1469.8,315.1 L1473.8,314.6 L1477.8,314.1 L1481.8,313.7 L1485.8,313.2 L1489.8,312.7 L1493.8,312.3 L1497.9,311.8 L1501.9,311.4 L1505.9,310.9 L1509.9,310.5 L1513.9,310.1 L1517.9,309.7 L1521.9,309.2 L1525.9,308.8 L1529.9,308.4 L1533.9,308.0 L1537.9,307.6 L1541.9,307.2 L1545.9,306.8 L1549.9,306.4 L1553.9,306.1 L1557.9,305.7 L1561.9,305.3 L1565.9,304.9 L1569.9,304.6 L1574.0,304.2 L1578.0,303.8 L1582.0,303.4 L1586.0,303.1 L1590.0,302.7 L1594.0,302.4 L1598.0,302.0 L1602.0,301.6 L1606.0,301.3 L1610.0,300.9 L1610.0,839 L96.0,839 Z" fill="url(#gRevP)" clip-path="url(#cpPast)"/>
<path d="M96.0,701.4 L100.0,700.4 L104.0,699.4 L108.0,698.3 L112.0,697.3 L116.0,696.3 L120.0,695.3 L124.0,694.3 L128.0,693.3 L132.0,692.2 L136.1,691.2 L140.1,690.2 L144.1,689.2 L148.1,688.2 L152.1,687.2 L156.1,686.1 L160.1,685.1 L164.1,684.1 L168.1,683.1 L172.1,682.1 L176.1,681.1 L180.1,680.0 L184.1,679.0 L188.1,678.0 L192.1,677.0 L196.1,676.0 L200.1,675.0 L204.1,674.0 L208.1,673.0 L212.2,671.9 L216.2,670.9 L220.2,669.9 L224.2,668.9 L228.2,667.9 L232.2,666.9 L236.2,665.9 L240.2,664.9 L244.2,663.9 L248.2,662.9 L252.2,661.9 L256.2,660.9 L260.2,659.9 L264.2,658.9 L268.2,657.9 L272.2,656.9 L276.2,655.9 L280.2,654.9 L284.2,653.9 L288.3,652.9 L292.3,651.9 L296.3,650.9 L300.3,649.9 L304.3,648.9 L308.3,647.9 L312.3,646.9 L316.3,646.0 L320.3,645.0 L324.3,644.0 L328.3,643.0 L332.3,642.0 L336.3,641.0 L340.3,640.1 L344.3,639.1 L348.3,638.1 L352.3,637.1 L356.3,636.1 L360.3,635.2 L364.4,634.2 L368.4,633.2 L372.4,632.3 L376.4,631.3 L380.4,630.3 L384.4,629.4 L388.4,628.4 L392.4,627.4 L396.4,626.5 L399.3,625.8 L400.4,625.5 L404.4,624.6 L408.4,623.6 L412.4,622.7 L416.4,621.8 L420.4,620.8 L424.4,619.9 L428.4,619.0 L432.4,618.1 L436.4,617.1 L440.5,616.2 L444.5,615.3 L448.5,614.3 L452.5,613.4 L456.5,612.4 L460.5,611.5 L464.5,610.5 L468.5,609.5 L472.5,608.5 L474.7,607.9 L476.5,607.4 L480.5,606.4 L484.5,605.4 L488.5,604.3 L492.5,603.2 L496.5,602.2 L500.5,601.1 L504.5,600.0 L508.5,598.9 L512.6,597.8 L516.6,596.7 L520.6,595.5 L524.6,594.4 L528.6,593.3 L532.6,592.1 L536.6,590.9 L540.6,589.8 L544.6,588.6 L548.6,587.4 L550.9,586.7 L552.6,586.2 L556.6,585.0 L560.6,583.7 L564.6,582.5 L568.6,581.2 L572.6,580.0 L576.6,578.7 L580.6,577.4 L584.6,576.1 L588.7,574.8 L592.7,573.5 L596.7,572.2 L600.7,570.9 L604.7,569.6 L608.7,568.2 L612.7,566.9 L616.7,565.5 L620.7,564.1 L624.7,562.8 L627.2,561.9 L628.7,561.4 L632.7,560.0 L636.7,558.5 L640.7,557.0 L644.7,555.5 L648.7,554.0 L652.7,552.5 L656.7,550.9 L660.7,549.4 L664.8,547.8 L668.8,546.3 L672.8,544.8 L676.8,543.3 L680.8,541.8 L684.8,540.3 L688.8,538.9 L692.8,537.5 L696.8,536.2 L700.8,534.9 L701.8,534.6 L704.8,533.6 L708.8,532.4 L712.8,531.2 L716.8,530.1 L720.8,529.0 L724.8,527.9 L728.8,526.9 L732.8,525.8 L736.8,524.8 L740.9,523.8 L744.9,522.8 L748.9,521.8 L752.9,520.8 L756.9,519.8 L760.9,518.8 L764.9,517.8 L768.9,516.8 L772.9,515.8 L776.9,514.7 L777.2,514.7 L780.9,513.7 L784.9,512.6 L788.9,511.5 L792.9,510.5 L796.9,509.4 L800.9,508.3 L804.9,507.3 L808.9,506.2 L812.9,505.2 L817.0,504.1 L821.0,503.0 L825.0,502.0 L829.0,500.9 L833.0,499.9 L837.0,498.8 L841.0,497.7 L845.0,496.7 L849.0,495.6 L853.0,494.5 L857.0,493.5 L861.0,492.4 L865.0,491.3 L869.0,490.3 L873.0,489.2 L877.0,488.1 L881.0,487.0 L885.0,486.0 L889.0,484.9 L893.1,483.8 L897.1,482.7 L901.1,481.6 L905.1,480.5 L909.1,479.4 L913.1,478.3 L917.1,477.2 L921.1,476.1 L925.1,475.0 L929.1,473.8 L933.1,472.7 L937.1,471.6 L941.1,470.5 L945.1,469.3 L949.1,468.2 L953.1,467.0 L957.1,465.9 L961.1,464.7 L965.1,463.5 L969.2,462.3 L973.2,461.2 L977.2,460.0 L981.2,458.8 L985.2,457.6 L989.2,456.4 L993.2,455.1 L997.2,453.9 L1001.2,452.7 L1004.2,451.7 L1005.2,451.4 L1009.2,450.2 L1013.2,448.9 L1017.2,447.6 L1021.2,446.3 L1025.2,444.9 L1029.2,443.6 L1033.2,442.2 L1037.2,440.8 L1041.2,439.4 L1045.3,438.0 L1049.3,436.6 L1053.3,435.2 L1057.3,433.7 L1061.3,432.2 L1065.3,430.8 L1069.3,429.3 L1073.3,427.8 L1077.3,426.2 L1081.3,424.7 L1085.3,423.2 L1089.3,421.7 L1093.3,420.1 L1097.3,418.6 L1101.3,417.0 L1105.3,415.5 L1109.3,413.9 L1113.3,412.3 L1117.3,410.7 L1121.4,409.2 L1125.4,407.6 L1129.4,406.0 L1133.4,404.4 L1137.4,402.8 L1141.4,401.3 L1145.4,399.7 L1149.4,398.1 L1153.4,396.5 L1157.4,395.0 L1161.4,393.4 L1165.4,391.8 L1169.4,390.3 L1173.4,388.7 L1177.4,387.2 L1181.4,385.6 L1185.4,384.1 L1189.4,382.6 L1193.4,381.0 L1197.5,379.5 L1201.5,378.0 L1205.5,376.5 L1209.5,375.1 L1213.5,373.6 L1217.5,372.1 L1221.5,370.7 L1225.5,369.3 L1229.5,367.9 L1233.5,366.5 L1237.5,365.1 L1241.5,363.7 L1245.5,362.4 L1249.5,361.0 L1253.5,359.7 L1257.5,358.4 L1261.5,357.2 L1265.5,355.9 L1269.6,354.7 L1273.6,353.5 L1277.6,352.3 L1281.6,351.1 L1285.6,350.0 L1289.6,348.8 L1293.6,347.7 L1297.6,346.7 L1301.6,345.6 L1305.6,344.6 L1306.7,344.3 L1309.6,343.6 L1313.6,342.6 L1317.6,341.7 L1321.6,340.7 L1325.6,339.8 L1329.6,338.9 L1333.6,338.0 L1337.6,337.1 L1341.6,336.2 L1345.7,335.4 L1349.7,334.5 L1353.7,333.7 L1357.7,332.9 L1361.7,332.1 L1365.7,331.3 L1369.7,330.6 L1373.7,329.8 L1377.7,329.1 L1381.7,328.3 L1385.7,327.6 L1389.7,326.9 L1393.7,326.2 L1397.7,325.6 L1401.7,324.9 L1405.7,324.2 L1409.7,323.6 L1413.7,323.0 L1417.7,322.3 L1421.8,321.7 L1425.8,321.1 L1429.8,320.5 L1433.8,319.9 L1437.8,319.4 L1441.8,318.8 L1445.8,318.3 L1449.8,317.7 L1453.8,317.2 L1457.8,316.7 L1461.8,316.1 L1465.8,315.6 L1469.8,315.1 L1473.8,314.6 L1477.8,314.1 L1481.8,313.7 L1485.8,313.2 L1489.8,312.7 L1493.8,312.3 L1497.9,311.8 L1501.9,311.4 L1505.9,310.9 L1509.9,310.5 L1513.9,310.1 L1517.9,309.7 L1521.9,309.2 L1525.9,308.8 L1529.9,308.4 L1533.9,308.0 L1537.9,307.6 L1541.9,307.2 L1545.9,306.8 L1549.9,306.4 L1553.9,306.1 L1557.9,305.7 L1561.9,305.3 L1565.9,304.9 L1569.9,304.6 L1574.0,304.2 L1578.0,303.8 L1582.0,303.4 L1586.0,303.1 L1590.0,302.7 L1594.0,302.4 L1598.0,302.0 L1602.0,301.6 L1606.0,301.3 L1610.0,300.9 L1610.0,839 L96.0,839 Z" fill="url(#gRevF)" clip-path="url(#cpFore)"/>
<path d="M96.0,793.3 L100.0,793.2 L104.0,793.2 L108.0,793.1 L112.0,793.1 L116.1,793.0 L120.1,793.0 L124.1,792.9 L128.1,792.9 L132.1,792.8 L136.1,792.7 L140.1,792.7 L144.1,792.6 L148.2,792.5 L152.2,792.5 L156.2,792.4 L160.2,792.3 L164.2,792.2 L168.2,792.2 L172.2,792.1 L176.2,792.0 L180.3,791.9 L184.3,791.8 L188.3,791.7 L192.3,791.6 L196.3,791.5 L200.3,791.4 L204.3,791.3 L208.3,791.2 L212.3,791.1 L216.4,791.0 L220.4,790.8 L224.4,790.7 L228.4,790.6 L232.4,790.4 L236.4,790.3 L240.4,790.1 L244.4,790.0 L247.6,789.8 L248.5,789.8 L252.5,789.6 L256.5,789.5 L260.5,789.3 L264.5,789.2 L268.5,789.0 L272.5,788.9 L276.5,788.7 L280.5,788.6 L284.6,788.4 L288.6,788.2 L292.6,788.1 L296.6,787.9 L300.6,787.8 L304.6,787.6 L308.6,787.4 L312.6,787.2 L316.7,787.1 L320.7,786.9 L324.7,786.7 L328.7,786.5 L332.7,786.2 L336.7,786.0 L340.7,785.8 L344.7,785.5 L348.8,785.3 L352.8,785.0 L356.8,784.7 L360.8,784.4 L364.8,784.1 L368.8,783.8 L372.8,783.4 L376.8,783.1 L380.8,782.7 L384.9,782.3 L388.9,781.9 L392.9,781.5 L396.9,781.1 L399.3,780.8 L400.9,780.6 L404.9,780.1 L408.9,779.6 L412.9,779.0 L417.0,778.4 L421.0,777.8 L425.0,777.2 L429.0,776.5 L433.0,775.8 L437.0,775.1 L441.0,774.3 L445.0,773.6 L449.0,772.8 L453.1,772.0 L457.1,771.2 L461.1,770.4 L465.1,769.6 L469.1,768.8 L473.1,768.0 L477.1,767.2 L481.1,766.4 L485.2,765.6 L489.2,764.8 L493.2,764.0 L497.2,763.2 L501.2,762.5 L505.2,761.7 L509.2,761.0 L513.2,760.3 L517.3,759.6 L521.3,758.9 L525.3,758.3 L529.3,757.7 L533.3,757.1 L537.3,756.6 L541.3,756.0 L545.3,755.6 L549.3,755.1 L550.9,755.0 L553.4,754.7 L557.4,754.4 L561.4,754.0 L565.4,753.6 L569.4,753.3 L573.4,753.0 L577.4,752.7 L581.4,752.4 L585.5,752.1 L589.5,751.8 L593.5,751.5 L597.5,751.3 L601.5,751.1 L605.5,750.8 L609.5,750.6 L613.5,750.4 L617.5,750.2 L621.6,750.0 L625.6,749.8 L629.6,749.7 L633.6,749.5 L637.6,749.4 L641.6,749.2 L645.6,749.1 L649.6,748.9 L653.7,748.8 L657.7,748.7 L661.7,748.5 L665.7,748.4 L669.7,748.3 L673.7,748.2 L677.7,748.1 L681.7,748.0 L685.8,747.9 L689.8,747.8 L693.8,747.7 L697.8,747.6 L701.8,747.5 L705.8,746.8 L709.8,746.8 L713.8,746.7 L717.8,746.7 L721.8,746.6 L725.8,746.6 L729.8,746.5 L733.8,746.5 L737.8,746.4 L741.8,746.4 L745.8,746.3 L749.8,746.3 L753.8,746.2 L757.8,746.2 L761.8,746.1 L765.8,746.1 L769.8,746.0 L773.8,745.9 L777.8,745.9 L781.8,745.8 L785.8,745.8 L789.8,745.7 L793.8,745.6 L797.8,745.6 L801.8,745.5 L805.8,745.4 L809.8,745.4 L813.8,745.3 L817.8,745.2 L821.8,745.2 L825.8,745.1 L829.8,745.0 L833.8,745.0 L837.8,744.9 L841.8,744.8 L845.8,744.7 L849.8,744.6 L853.8,744.5 L857.8,744.5 L861.8,744.4 L865.8,744.3 L869.8,744.2 L873.8,744.1 L877.8,744.0 L881.8,743.9 L885.8,743.8 L889.8,743.7 L893.8,743.6 L897.8,743.5 L901.8,743.4 L905.8,743.3 L909.8,743.1 L913.8,743.0 L917.8,742.9 L921.8,742.8 L925.8,742.6 L929.9,742.5 L933.9,742.4 L937.9,742.2 L941.9,742.1 L945.9,742.0 L949.9,741.8 L953.9,741.7 L957.9,741.5 L961.9,741.4 L965.9,741.2 L969.9,741.0 L973.9,740.9 L977.9,740.7 L981.9,740.5 L985.9,740.4 L989.9,740.2 L993.9,740.0 L997.9,739.8 L1001.9,739.6 L1004.2,739.5 L1005.9,739.4 L1009.9,739.2 L1013.9,739.0 L1017.9,738.7 L1021.9,738.5 L1025.9,738.2 L1029.9,737.9 L1033.9,737.6 L1037.9,737.2 L1041.9,736.9 L1045.9,736.5 L1049.9,736.2 L1053.9,735.8 L1057.9,735.4 L1061.9,734.9 L1065.9,734.5 L1069.9,734.1 L1073.9,733.6 L1077.9,733.1 L1081.9,732.7 L1085.9,732.2 L1089.9,731.7 L1093.9,731.2 L1097.9,730.7 L1101.9,730.1 L1105.9,729.6 L1109.9,729.0 L1113.9,728.5 L1117.9,727.9 L1121.9,727.4 L1125.9,726.8 L1129.9,726.2 L1133.9,725.6 L1137.9,725.0 L1141.9,724.4 L1145.9,723.8 L1149.9,723.2 L1153.9,722.6 L1157.9,722.0 L1161.9,721.4 L1165.9,720.7 L1169.9,720.1 L1173.9,719.5 L1177.9,718.9 L1181.9,718.2 L1185.9,717.6 L1189.9,717.0 L1193.9,716.4 L1197.9,715.7 L1201.9,715.1 L1205.9,714.5 L1209.9,713.9 L1213.9,713.2 L1217.9,712.6 L1221.9,712.0 L1225.9,711.4 L1229.9,710.8 L1233.9,710.2 L1237.9,709.6 L1241.9,709.0 L1245.9,708.4 L1249.9,707.8 L1253.9,707.2 L1257.9,706.7 L1261.9,706.1 L1265.9,705.5 L1269.9,705.0 L1273.9,704.5 L1277.9,703.9 L1281.9,703.4 L1285.9,702.9 L1289.9,702.4 L1293.9,701.9 L1297.9,701.4 L1301.9,701.0 L1305.9,700.5 L1306.7,700.4 L1309.9,700.0 L1313.9,699.6 L1317.9,699.2 L1321.9,698.7 L1325.9,698.3 L1329.9,697.8 L1333.9,697.4 L1337.9,697.0 L1341.9,696.5 L1345.9,696.1 L1349.9,695.7 L1353.9,695.3 L1357.9,694.9 L1361.9,694.4 L1365.9,694.0 L1369.9,693.6 L1373.9,693.2 L1377.9,692.8 L1381.9,692.4 L1386.0,692.0 L1390.0,691.6 L1394.0,691.2 L1398.0,690.8 L1402.0,690.4 L1406.0,690.0 L1410.0,689.6 L1414.0,689.2 L1418.0,688.8 L1422.0,688.4 L1426.0,688.0 L1430.0,687.6 L1434.0,687.3 L1438.0,686.9 L1442.0,686.5 L1446.0,686.1 L1450.0,685.7 L1454.0,685.4 L1458.0,685.0 L1462.0,684.6 L1466.0,684.2 L1470.0,683.9 L1474.0,683.5 L1478.0,683.1 L1482.0,682.8 L1486.0,682.4 L1490.0,682.0 L1494.0,681.7 L1498.0,681.3 L1502.0,681.0 L1506.0,680.6 L1510.0,680.2 L1514.0,679.9 L1518.0,679.5 L1522.0,679.2 L1526.0,678.8 L1530.0,678.4 L1534.0,678.1 L1538.0,677.7 L1542.0,677.4 L1546.0,677.0 L1550.0,676.7 L1554.0,676.3 L1558.0,676.0 L1562.0,675.6 L1566.0,675.3 L1570.0,674.9 L1574.0,674.6 L1578.0,674.2 L1582.0,673.9 L1586.0,673.5 L1590.0,673.2 L1594.0,672.8 L1598.0,672.5 L1602.0,672.1 L1606.0,671.8 L1610.0,671.4 L1610.0,839 L96.0,839 Z" fill="url(#gFcfP)" clip-path="url(#cpPast)"/>
<path d="M96.0,793.3 L100.0,793.2 L104.0,793.2 L108.0,793.1 L112.0,793.1 L116.1,793.0 L120.1,793.0 L124.1,792.9 L128.1,792.9 L132.1,792.8 L136.1,792.7 L140.1,792.7 L144.1,792.6 L148.2,792.5 L152.2,792.5 L156.2,792.4 L160.2,792.3 L164.2,792.2 L168.2,792.2 L172.2,792.1 L176.2,792.0 L180.3,791.9 L184.3,791.8 L188.3,791.7 L192.3,791.6 L196.3,791.5 L200.3,791.4 L204.3,791.3 L208.3,791.2 L212.3,791.1 L216.4,791.0 L220.4,790.8 L224.4,790.7 L228.4,790.6 L232.4,790.4 L236.4,790.3 L240.4,790.1 L244.4,790.0 L247.6,789.8 L248.5,789.8 L252.5,789.6 L256.5,789.5 L260.5,789.3 L264.5,789.2 L268.5,789.0 L272.5,788.9 L276.5,788.7 L280.5,788.6 L284.6,788.4 L288.6,788.2 L292.6,788.1 L296.6,787.9 L300.6,787.8 L304.6,787.6 L308.6,787.4 L312.6,787.2 L316.7,787.1 L320.7,786.9 L324.7,786.7 L328.7,786.5 L332.7,786.2 L336.7,786.0 L340.7,785.8 L344.7,785.5 L348.8,785.3 L352.8,785.0 L356.8,784.7 L360.8,784.4 L364.8,784.1 L368.8,783.8 L372.8,783.4 L376.8,783.1 L380.8,782.7 L384.9,782.3 L388.9,781.9 L392.9,781.5 L396.9,781.1 L399.3,780.8 L400.9,780.6 L404.9,780.1 L408.9,779.6 L412.9,779.0 L417.0,778.4 L421.0,777.8 L425.0,777.2 L429.0,776.5 L433.0,775.8 L437.0,775.1 L441.0,774.3 L445.0,773.6 L449.0,772.8 L453.1,772.0 L457.1,771.2 L461.1,770.4 L465.1,769.6 L469.1,768.8 L473.1,768.0 L477.1,767.2 L481.1,766.4 L485.2,765.6 L489.2,764.8 L493.2,764.0 L497.2,763.2 L501.2,762.5 L505.2,761.7 L509.2,761.0 L513.2,760.3 L517.3,759.6 L521.3,758.9 L525.3,758.3 L529.3,757.7 L533.3,757.1 L537.3,756.6 L541.3,756.0 L545.3,755.6 L549.3,755.1 L550.9,755.0 L553.4,754.7 L557.4,754.4 L561.4,754.0 L565.4,753.6 L569.4,753.3 L573.4,753.0 L577.4,752.7 L581.4,752.4 L585.5,752.1 L589.5,751.8 L593.5,751.5 L597.5,751.3 L601.5,751.1 L605.5,750.8 L609.5,750.6 L613.5,750.4 L617.5,750.2 L621.6,750.0 L625.6,749.8 L629.6,749.7 L633.6,749.5 L637.6,749.4 L641.6,749.2 L645.6,749.1 L649.6,748.9 L653.7,748.8 L657.7,748.7 L661.7,748.5 L665.7,748.4 L669.7,748.3 L673.7,748.2 L677.7,748.1 L681.7,748.0 L685.8,747.9 L689.8,747.8 L693.8,747.7 L697.8,747.6 L701.8,747.5 L705.8,746.8 L709.8,746.8 L713.8,746.7 L717.8,746.7 L721.8,746.6 L725.8,746.6 L729.8,746.5 L733.8,746.5 L737.8,746.4 L741.8,746.4 L745.8,746.3 L749.8,746.3 L753.8,746.2 L757.8,746.2 L761.8,746.1 L765.8,746.1 L769.8,746.0 L773.8,745.9 L777.8,745.9 L781.8,745.8 L785.8,745.8 L789.8,745.7 L793.8,745.6 L797.8,745.6 L801.8,745.5 L805.8,745.4 L809.8,745.4 L813.8,745.3 L817.8,745.2 L821.8,745.2 L825.8,745.1 L829.8,745.0 L833.8,745.0 L837.8,744.9 L841.8,744.8 L845.8,744.7 L849.8,744.6 L853.8,744.5 L857.8,744.5 L861.8,744.4 L865.8,744.3 L869.8,744.2 L873.8,744.1 L877.8,744.0 L881.8,743.9 L885.8,743.8 L889.8,743.7 L893.8,743.6 L897.8,743.5 L901.8,743.4 L905.8,743.3 L909.8,743.1 L913.8,743.0 L917.8,742.9 L921.8,742.8 L925.8,742.6 L929.9,742.5 L933.9,742.4 L937.9,742.2 L941.9,742.1 L945.9,742.0 L949.9,741.8 L953.9,741.7 L957.9,741.5 L961.9,741.4 L965.9,741.2 L969.9,741.0 L973.9,740.9 L977.9,740.7 L981.9,740.5 L985.9,740.4 L989.9,740.2 L993.9,740.0 L997.9,739.8 L1001.9,739.6 L1004.2,739.5 L1005.9,739.4 L1009.9,739.2 L1013.9,739.0 L1017.9,738.7 L1021.9,738.5 L1025.9,738.2 L1029.9,737.9 L1033.9,737.6 L1037.9,737.2 L1041.9,736.9 L1045.9,736.5 L1049.9,736.2 L1053.9,735.8 L1057.9,735.4 L1061.9,734.9 L1065.9,734.5 L1069.9,734.1 L1073.9,733.6 L1077.9,733.1 L1081.9,732.7 L1085.9,732.2 L1089.9,731.7 L1093.9,731.2 L1097.9,730.7 L1101.9,730.1 L1105.9,729.6 L1109.9,729.0 L1113.9,728.5 L1117.9,727.9 L1121.9,727.4 L1125.9,726.8 L1129.9,726.2 L1133.9,725.6 L1137.9,725.0 L1141.9,724.4 L1145.9,723.8 L1149.9,723.2 L1153.9,722.6 L1157.9,722.0 L1161.9,721.4 L1165.9,720.7 L1169.9,720.1 L1173.9,719.5 L1177.9,718.9 L1181.9,718.2 L1185.9,717.6 L1189.9,717.0 L1193.9,716.4 L1197.9,715.7 L1201.9,715.1 L1205.9,714.5 L1209.9,713.9 L1213.9,713.2 L1217.9,712.6 L1221.9,712.0 L1225.9,711.4 L1229.9,710.8 L1233.9,710.2 L1237.9,709.6 L1241.9,709.0 L1245.9,708.4 L1249.9,707.8 L1253.9,707.2 L1257.9,706.7 L1261.9,706.1 L1265.9,705.5 L1269.9,705.0 L1273.9,704.5 L1277.9,703.9 L1281.9,703.4 L1285.9,702.9 L1289.9,702.4 L1293.9,701.9 L1297.9,701.4 L1301.9,701.0 L1305.9,700.5 L1306.7,700.4 L1309.9,700.0 L1313.9,699.6 L1317.9,699.2 L1321.9,698.7 L1325.9,698.3 L1329.9,697.8 L1333.9,697.4 L1337.9,697.0 L1341.9,696.5 L1345.9,696.1 L1349.9,695.7 L1353.9,695.3 L1357.9,694.9 L1361.9,694.4 L1365.9,694.0 L1369.9,693.6 L1373.9,693.2 L1377.9,692.8 L1381.9,692.4 L1386.0,692.0 L1390.0,691.6 L1394.0,691.2 L1398.0,690.8 L1402.0,690.4 L1406.0,690.0 L1410.0,689.6 L1414.0,689.2 L1418.0,688.8 L1422.0,688.4 L1426.0,688.0 L1430.0,687.6 L1434.0,687.3 L1438.0,686.9 L1442.0,686.5 L1446.0,686.1 L1450.0,685.7 L1454.0,685.4 L1458.0,685.0 L1462.0,684.6 L1466.0,684.2 L1470.0,683.9 L1474.0,683.5 L1478.0,683.1 L1482.0,682.8 L1486.0,682.4 L1490.0,682.0 L1494.0,681.7 L1498.0,681.3 L1502.0,681.0 L1506.0,680.6 L1510.0,680.2 L1514.0,679.9 L1518.0,679.5 L1522.0,679.2 L1526.0,678.8 L1530.0,678.4 L1534.0,678.1 L1538.0,677.7 L1542.0,677.4 L1546.0,677.0 L1550.0,676.7 L1554.0,676.3 L1558.0,676.0 L1562.0,675.6 L1566.0,675.3 L1570.0,674.9 L1574.0,674.6 L1578.0,674.2 L1582.0,673.9 L1586.0,673.5 L1590.0,673.2 L1594.0,672.8 L1598.0,672.5 L1602.0,672.1 L1606.0,671.8 L1610.0,671.4 L1610.0,839 L96.0,839 Z" fill="url(#gFcfF)" clip-path="url(#cpFore)"/>
<path d="M96.0,792.7 L100.0,792.6 L104.0,792.6 L108.0,792.5 L112.0,792.5 L116.1,792.4 L120.1,792.4 L124.1,792.3 L128.1,792.3 L132.1,792.2 L136.1,792.1 L140.1,792.1 L144.1,792.0 L148.2,791.9 L152.2,791.9 L156.2,791.8 L160.2,791.7 L164.2,791.6 L168.2,791.6 L172.2,791.5 L176.2,791.4 L180.3,791.3 L184.3,791.2 L188.3,791.1 L192.3,791.0 L196.3,790.9 L200.3,790.8 L204.3,790.7 L208.3,790.6 L212.3,790.5 L216.4,790.4 L220.4,790.2 L224.4,790.1 L228.4,790.0 L232.4,789.8 L236.4,789.7 L240.4,789.5 L244.4,789.4 L247.6,789.2 L248.5,789.2 L252.5,789.0 L256.5,788.9 L260.5,788.7 L264.5,788.6 L268.5,788.4 L272.5,788.3 L276.5,788.1 L280.5,788.0 L284.6,787.8 L288.6,787.6 L292.6,787.5 L296.6,787.3 L300.6,787.2 L304.6,787.0 L308.6,786.8 L312.6,786.6 L316.7,786.5 L320.7,786.3 L324.7,786.1 L328.7,785.9 L332.7,785.6 L336.7,785.4 L340.7,785.2 L344.7,784.9 L348.8,784.7 L352.8,784.4 L356.8,784.1 L360.8,783.8 L364.8,783.5 L368.8,783.2 L372.8,782.8 L376.8,782.5 L380.8,782.1 L384.9,781.7 L388.9,781.3 L392.9,780.9 L396.9,780.5 L399.3,780.2 L400.9,780.0 L404.9,779.5 L408.9,779.0 L412.9,778.4 L417.0,777.8 L421.0,777.2 L425.0,776.6 L429.0,775.9 L433.0,775.2 L437.0,774.5 L441.0,773.7 L445.0,773.0 L449.0,772.2 L453.1,771.4 L457.1,770.6 L461.1,769.8 L465.1,769.0 L469.1,768.2 L473.1,767.4 L477.1,766.6 L481.1,765.8 L485.2,765.0 L489.2,764.2 L493.2,763.4 L497.2,762.6 L501.2,761.9 L505.2,761.1 L509.2,760.4 L513.2,759.7 L517.3,759.0 L521.3,758.3 L525.3,757.7 L529.3,757.1 L533.3,756.5 L537.3,756.0 L541.3,755.4 L545.3,755.0 L549.3,754.5 L550.9,754.4 L553.4,754.1 L557.4,753.8 L561.4,753.4 L565.4,753.0 L569.4,752.7 L573.4,752.4 L577.4,752.1 L581.4,751.8 L585.5,751.5 L589.5,751.2 L593.5,750.9 L597.5,750.7 L601.5,750.5 L605.5,750.2 L609.5,750.0 L613.5,749.8 L617.5,749.6 L621.6,749.4 L625.6,749.2 L629.6,749.1 L633.6,748.9 L637.6,748.8 L641.6,748.6 L645.6,748.5 L649.6,748.3 L653.7,748.2 L657.7,748.1 L661.7,747.9 L665.7,747.8 L669.7,747.7 L673.7,747.6 L677.7,747.5 L681.7,747.4 L685.8,747.3 L689.8,747.2 L693.8,747.1 L697.8,747.0 L701.8,746.9 L701.8,839 L96.0,839 Z" fill="url(#gOpP)"/>
</g>
<g id="lines" fill="none" stroke-width="6" stroke-linejoin="round" clip-path="url(#cpData)">
<path d="M92.0,702.4 L96.0,701.4 L100.0,700.4 L104.0,699.4 L108.0,698.3 L112.0,697.3 L116.0,696.3 L120.0,695.3 L124.0,694.3 L128.0,693.3 L132.0,692.2 L136.1,691.2 L140.1,690.2 L144.1,689.2 L148.1,688.2 L152.1,687.2 L156.1,686.1 L160.1,685.1 L164.1,684.1 L168.1,683.1 L172.1,682.1 L176.1,681.1 L180.1,680.0 L184.1,679.0 L188.1,678.0 L192.1,677.0 L196.1,676.0 L200.1,675.0 L204.1,674.0 L208.1,673.0 L212.2,671.9 L216.2,670.9 L220.2,669.9 L224.2,668.9 L228.2,667.9 L232.2,666.9 L236.2,665.9 L240.2,664.9 L244.2,663.9 L248.2,662.9 L252.2,661.9 L256.2,660.9 L260.2,659.9 L264.2,658.9 L268.2,657.9 L272.2,656.9 L276.2,655.9 L280.2,654.9 L284.2,653.9 L288.3,652.9 L292.3,651.9 L296.3,650.9 L300.3,649.9 L304.3,648.9 L308.3,647.9 L312.3,646.9 L316.3,646.0 L320.3,645.0 L324.3,644.0 L328.3,643.0 L332.3,642.0 L336.3,641.0 L340.3,640.1 L344.3,639.1 L348.3,638.1 L352.3,637.1 L356.3,636.1 L360.3,635.2 L364.4,634.2 L368.4,633.2 L372.4,632.3 L376.4,631.3 L380.4,630.3 L384.4,629.4 L388.4,628.4 L392.4,627.4 L396.4,626.5 L399.3,625.8 L400.4,625.5 L404.4,624.6 L408.4,623.6 L412.4,622.7 L416.4,621.8 L420.4,620.8 L424.4,619.9 L428.4,619.0 L432.4,618.1 L436.4,617.1 L440.5,616.2 L444.5,615.3 L448.5,614.3 L452.5,613.4 L456.5,612.4 L460.5,611.5 L464.5,610.5 L468.5,609.5 L472.5,608.5 L474.7,607.9 L476.5,607.4 L480.5,606.4 L484.5,605.4 L488.5,604.3 L492.5,603.2 L496.5,602.2 L500.5,601.1 L504.5,600.0 L508.5,598.9 L512.6,597.8 L516.6,596.7 L520.6,595.5 L524.6,594.4 L528.6,593.3 L532.6,592.1 L536.6,590.9 L540.6,589.8 L544.6,588.6 L548.6,587.4 L550.9,586.7 L552.6,586.2 L556.6,585.0 L560.6,583.7 L564.6,582.5 L568.6,581.2 L572.6,580.0 L576.6,578.7 L580.6,577.4 L584.6,576.1 L588.7,574.8 L592.7,573.5 L596.7,572.2 L600.7,570.9 L604.7,569.6 L608.7,568.2 L612.7,566.9 L616.7,565.5 L620.7,564.1 L624.7,562.8 L627.2,561.9 L628.7,561.4 L632.7,560.0 L636.7,558.5 L640.7,557.0 L644.7,555.5 L648.7,554.0 L652.7,552.5 L656.7,550.9 L660.7,549.4 L664.8,547.8 L668.8,546.3 L672.8,544.8 L676.8,543.3 L680.8,541.8 L684.8,540.3 L688.8,538.9 L692.8,537.5 L696.8,536.2 L700.8,534.9 L701.8,534.6 L704.8,533.6 L708.8,532.4 L712.8,531.2 L716.8,530.1 L720.8,529.0 L724.8,527.9 L728.8,526.9 L732.8,525.8 L736.8,524.8 L740.9,523.8 L744.9,522.8 L748.9,521.8 L752.9,520.8 L756.9,519.8 L760.9,518.8 L764.9,517.8 L768.9,516.8 L772.9,515.8 L776.9,514.7 L777.2,514.7 L780.9,513.7 L784.9,512.6 L788.9,511.5 L792.9,510.5 L796.9,509.4 L800.9,508.3 L804.9,507.3 L808.9,506.2 L812.9,505.2 L817.0,504.1 L821.0,503.0 L825.0,502.0 L829.0,500.9 L833.0,499.9 L837.0,498.8 L841.0,497.7 L845.0,496.7 L849.0,495.6 L853.0,494.5 L857.0,493.5 L861.0,492.4 L865.0,491.3 L869.0,490.3 L873.0,489.2 L877.0,488.1 L881.0,487.0 L885.0,486.0 L889.0,484.9 L893.1,483.8 L897.1,482.7 L901.1,481.6 L905.1,480.5 L909.1,479.4 L913.1,478.3 L917.1,477.2 L921.1,476.1 L925.1,475.0 L929.1,473.8 L933.1,472.7 L937.1,471.6 L941.1,470.5 L945.1,469.3 L949.1,468.2 L953.1,467.0 L957.1,465.9 L961.1,464.7 L965.1,463.5 L969.2,462.3 L973.2,461.2 L977.2,460.0 L981.2,458.8 L985.2,457.6 L989.2,456.4 L993.2,455.1 L997.2,453.9 L1001.2,452.7 L1004.2,451.7 L1005.2,451.4 L1009.2,450.2 L1013.2,448.9 L1017.2,447.6 L1021.2,446.3 L1025.2,444.9 L1029.2,443.6 L1033.2,442.2 L1037.2,440.8 L1041.2,439.4 L1045.3,438.0 L1049.3,436.6 L1053.3,435.2 L1057.3,433.7 L1061.3,432.2 L1065.3,430.8 L1069.3,429.3 L1073.3,427.8 L1077.3,426.2 L1081.3,424.7 L1085.3,423.2 L1089.3,421.7 L1093.3,420.1 L1097.3,418.6 L1101.3,417.0 L1105.3,415.5 L1109.3,413.9 L1113.3,412.3 L1117.3,410.7 L1121.4,409.2 L1125.4,407.6 L1129.4,406.0 L1133.4,404.4 L1137.4,402.8 L1141.4,401.3 L1145.4,399.7 L1149.4,398.1 L1153.4,396.5 L1157.4,395.0 L1161.4,393.4 L1165.4,391.8 L1169.4,390.3 L1173.4,388.7 L1177.4,387.2 L1181.4,385.6 L1185.4,384.1 L1189.4,382.6 L1193.4,381.0 L1197.5,379.5 L1201.5,378.0 L1205.5,376.5 L1209.5,375.1 L1213.5,373.6 L1217.5,372.1 L1221.5,370.7 L1225.5,369.3 L1229.5,367.9 L1233.5,366.5 L1237.5,365.1 L1241.5,363.7 L1245.5,362.4 L1249.5,361.0 L1253.5,359.7 L1257.5,358.4 L1261.5,357.2 L1265.5,355.9 L1269.6,354.7 L1273.6,353.5 L1277.6,352.3 L1281.6,351.1 L1285.6,350.0 L1289.6,348.8 L1293.6,347.7 L1297.6,346.7 L1301.6,345.6 L1305.6,344.6 L1306.7,344.3 L1309.6,343.6 L1313.6,342.6 L1317.6,341.7 L1321.6,340.7 L1325.6,339.8 L1329.6,338.9 L1333.6,338.0 L1337.6,337.1 L1341.6,336.2 L1345.7,335.4 L1349.7,334.5 L1353.7,333.7 L1357.7,332.9 L1361.7,332.1 L1365.7,331.3 L1369.7,330.6 L1373.7,329.8 L1377.7,329.1 L1381.7,328.3 L1385.7,327.6 L1389.7,326.9 L1393.7,326.2 L1397.7,325.6 L1401.7,324.9 L1405.7,324.2 L1409.7,323.6 L1413.7,323.0 L1417.7,322.3 L1421.8,321.7 L1425.8,321.1 L1429.8,320.5 L1433.8,319.9 L1437.8,319.4 L1441.8,318.8 L1445.8,318.3 L1449.8,317.7 L1453.8,317.2 L1457.8,316.7 L1461.8,316.1 L1465.8,315.6 L1469.8,315.1 L1473.8,314.6 L1477.8,314.1 L1481.8,313.7 L1485.8,313.2 L1489.8,312.7 L1493.8,312.3 L1497.9,311.8 L1501.9,311.4 L1505.9,310.9 L1509.9,310.5 L1513.9,310.1 L1517.9,309.7 L1521.9,309.2 L1525.9,308.8 L1529.9,308.4 L1533.9,308.0 L1537.9,307.6 L1541.9,307.2 L1545.9,306.8 L1549.9,306.4 L1553.9,306.1 L1557.9,305.7 L1561.9,305.3 L1565.9,304.9 L1569.9,304.6 L1574.0,304.2 L1578.0,303.8 L1582.0,303.4 L1586.0,303.1 L1590.0,302.7 L1594.0,302.4 L1598.0,302.0 L1602.0,301.6 L1606.0,301.3 L1610.0,300.9 L1614.0,300.5" stroke="#2394df"/>
<path d="M92.0,793.4 L96.0,793.3 L100.0,793.2 L104.0,793.2 L108.0,793.1 L112.0,793.1 L116.1,793.0 L120.1,793.0 L124.1,792.9 L128.1,792.9 L132.1,792.8 L136.1,792.7 L140.1,792.7 L144.1,792.6 L148.2,792.5 L152.2,792.5 L156.2,792.4 L160.2,792.3 L164.2,792.2 L168.2,792.2 L172.2,792.1 L176.2,792.0 L180.3,791.9 L184.3,791.8 L188.3,791.7 L192.3,791.6 L196.3,791.5 L200.3,791.4 L204.3,791.3 L208.3,791.2 L212.3,791.1 L216.4,791.0 L220.4,790.8 L224.4,790.7 L228.4,790.6 L232.4,790.4 L236.4,790.3 L240.4,790.1 L244.4,790.0 L247.6,789.8 L248.5,789.8 L252.5,789.6 L256.5,789.5 L260.5,789.3 L264.5,789.2 L268.5,789.0 L272.5,788.9 L276.5,788.7 L280.5,788.6 L284.6,788.4 L288.6,788.2 L292.6,788.1 L296.6,787.9 L300.6,787.8 L304.6,787.6 L308.6,787.4 L312.6,787.2 L316.7,787.1 L320.7,786.9 L324.7,786.7 L328.7,786.5 L332.7,786.2 L336.7,786.0 L340.7,785.8 L344.7,785.5 L348.8,785.3 L352.8,785.0 L356.8,784.7 L360.8,784.4 L364.8,784.1 L368.8,783.8 L372.8,783.4 L376.8,783.1 L380.8,782.7 L384.9,782.3 L388.9,781.9 L392.9,781.5 L396.9,781.1 L399.3,780.8 L400.9,780.6 L404.9,780.1 L408.9,779.6 L412.9,779.0 L417.0,778.4 L421.0,777.8 L425.0,777.2 L429.0,776.5 L433.0,775.8 L437.0,775.1 L441.0,774.3 L445.0,773.6 L449.0,772.8 L453.1,772.0 L457.1,771.2 L461.1,770.4 L465.1,769.6 L469.1,768.8 L473.1,768.0 L477.1,767.2 L481.1,766.4 L485.2,765.6 L489.2,764.8 L493.2,764.0 L497.2,763.2 L501.2,762.5 L505.2,761.7 L509.2,761.0 L513.2,760.3 L517.3,759.6 L521.3,758.9 L525.3,758.3 L529.3,757.7 L533.3,757.1 L537.3,756.6 L541.3,756.0 L545.3,755.6 L549.3,755.1 L550.9,755.0 L553.4,754.7 L557.4,754.4 L561.4,754.0 L565.4,753.6 L569.4,753.3 L573.4,753.0 L577.4,752.7 L581.4,752.4 L585.5,752.1 L589.5,751.8 L593.5,751.5 L597.5,751.3 L601.5,751.1 L605.5,750.8 L609.5,750.6 L613.5,750.4 L617.5,750.2 L621.6,750.0 L625.6,749.8 L629.6,749.7 L633.6,749.5 L637.6,749.4 L641.6,749.2 L645.6,749.1 L649.6,748.9 L653.7,748.8 L657.7,748.7 L661.7,748.5 L665.7,748.4 L669.7,748.3 L673.7,748.2 L677.7,748.1 L681.7,748.0 L685.8,747.9 L689.8,747.8 L693.8,747.7 L697.8,747.6 L701.8,747.5 L705.8,746.8 L709.8,746.8 L713.8,746.7 L717.8,746.7 L721.8,746.6 L725.8,746.6 L729.8,746.5 L733.8,746.5 L737.8,746.4 L741.8,746.4 L745.8,746.3 L749.8,746.3 L753.8,746.2 L757.8,746.2 L761.8,746.1 L765.8,746.1 L769.8,746.0 L773.8,745.9 L777.8,745.9 L781.8,745.8 L785.8,745.8 L789.8,745.7 L793.8,745.6 L797.8,745.6 L801.8,745.5 L805.8,745.4 L809.8,745.4 L813.8,745.3 L817.8,745.2 L821.8,745.2 L825.8,745.1 L829.8,745.0 L833.8,745.0 L837.8,744.9 L841.8,744.8 L845.8,744.7 L849.8,744.6 L853.8,744.5 L857.8,744.5 L861.8,744.4 L865.8,744.3 L869.8,744.2 L873.8,744.1 L877.8,744.0 L881.8,743.9 L885.8,743.8 L889.8,743.7 L893.8,743.6 L897.8,743.5 L901.8,743.4 L905.8,743.3 L909.8,743.1 L913.8,743.0 L917.8,742.9 L921.8,742.8 L925.8,742.6 L929.9,742.5 L933.9,742.4 L937.9,742.2 L941.9,742.1 L945.9,742.0 L949.9,741.8 L953.9,741.7 L957.9,741.5 L961.9,741.4 L965.9,741.2 L969.9,741.0 L973.9,740.9 L977.9,740.7 L981.9,740.5 L985.9,740.4 L989.9,740.2 L993.9,740.0 L997.9,739.8 L1001.9,739.6 L1004.2,739.5 L1005.9,739.4 L1009.9,739.2 L1013.9,739.0 L1017.9,738.7 L1021.9,738.5 L1025.9,738.2 L1029.9,737.9 L1033.9,737.6 L1037.9,737.2 L1041.9,736.9 L1045.9,736.5 L1049.9,736.2 L1053.9,735.8 L1057.9,735.4 L1061.9,734.9 L1065.9,734.5 L1069.9,734.1 L1073.9,733.6 L1077.9,733.1 L1081.9,732.7 L1085.9,732.2 L1089.9,731.7 L1093.9,731.2 L1097.9,730.7 L1101.9,730.1 L1105.9,729.6 L1109.9,729.0 L1113.9,728.5 L1117.9,727.9 L1121.9,727.4 L1125.9,726.8 L1129.9,726.2 L1133.9,725.6 L1137.9,725.0 L1141.9,724.4 L1145.9,723.8 L1149.9,723.2 L1153.9,722.6 L1157.9,722.0 L1161.9,721.4 L1165.9,720.7 L1169.9,720.1 L1173.9,719.5 L1177.9,718.9 L1181.9,718.2 L1185.9,717.6 L1189.9,717.0 L1193.9,716.4 L1197.9,715.7 L1201.9,715.1 L1205.9,714.5 L1209.9,713.9 L1213.9,713.2 L1217.9,712.6 L1221.9,712.0 L1225.9,711.4 L1229.9,710.8 L1233.9,710.2 L1237.9,709.6 L1241.9,709.0 L1245.9,708.4 L1249.9,707.8 L1253.9,707.2 L1257.9,706.7 L1261.9,706.1 L1265.9,705.5 L1269.9,705.0 L1273.9,704.5 L1277.9,703.9 L1281.9,703.4 L1285.9,702.9 L1289.9,702.4 L1293.9,701.9 L1297.9,701.4 L1301.9,701.0 L1305.9,700.5 L1306.7,700.4 L1309.9,700.0 L1313.9,699.6 L1317.9,699.2 L1321.9,698.7 L1325.9,698.3 L1329.9,697.8 L1333.9,697.4 L1337.9,697.0 L1341.9,696.5 L1345.9,696.1 L1349.9,695.7 L1353.9,695.3 L1357.9,694.9 L1361.9,694.4 L1365.9,694.0 L1369.9,693.6 L1373.9,693.2 L1377.9,692.8 L1381.9,692.4 L1386.0,692.0 L1390.0,691.6 L1394.0,691.2 L1398.0,690.8 L1402.0,690.4 L1406.0,690.0 L1410.0,689.6 L1414.0,689.2 L1418.0,688.8 L1422.0,688.4 L1426.0,688.0 L1430.0,687.6 L1434.0,687.3 L1438.0,686.9 L1442.0,686.5 L1446.0,686.1 L1450.0,685.7 L1454.0,685.4 L1458.0,685.0 L1462.0,684.6 L1466.0,684.2 L1470.0,683.9 L1474.0,683.5 L1478.0,683.1 L1482.0,682.8 L1486.0,682.4 L1490.0,682.0 L1494.0,681.7 L1498.0,681.3 L1502.0,681.0 L1506.0,680.6 L1510.0,680.2 L1514.0,679.9 L1518.0,679.5 L1522.0,679.2 L1526.0,678.8 L1530.0,678.4 L1534.0,678.1 L1538.0,677.7 L1542.0,677.4 L1546.0,677.0 L1550.0,676.7 L1554.0,676.3 L1558.0,676.0 L1562.0,675.6 L1566.0,675.3 L1570.0,674.9 L1574.0,674.6 L1578.0,674.2 L1582.0,673.9 L1586.0,673.5 L1590.0,673.2 L1594.0,672.8 L1598.0,672.5 L1602.0,672.1 L1606.0,671.8 L1610.0,671.4 L1614.0,671.1" stroke="#c0478e"/>
<path d="M92.0,792.8 L96.0,792.7 L100.0,792.6 L104.0,792.6 L108.0,792.5 L112.0,792.5 L116.1,792.4 L120.1,792.4 L124.1,792.3 L128.1,792.3 L132.1,792.2 L136.1,792.1 L140.1,792.1 L144.1,792.0 L148.2,791.9 L152.2,791.9 L156.2,791.8 L160.2,791.7 L164.2,791.6 L168.2,791.6 L172.2,791.5 L176.2,791.4 L180.3,791.3 L184.3,791.2 L188.3,791.1 L192.3,791.0 L196.3,790.9 L200.3,790.8 L204.3,790.7 L208.3,790.6 L212.3,790.5 L216.4,790.4 L220.4,790.2 L224.4,790.1 L228.4,790.0 L232.4,789.8 L236.4,789.7 L240.4,789.5 L244.4,789.4 L247.6,789.2 L248.5,789.2 L252.5,789.0 L256.5,788.9 L260.5,788.7 L264.5,788.6 L268.5,788.4 L272.5,788.3 L276.5,788.1 L280.5,788.0 L284.6,787.8 L288.6,787.6 L292.6,787.5 L296.6,787.3 L300.6,787.2 L304.6,787.0 L308.6,786.8 L312.6,786.6 L316.7,786.5 L320.7,786.3 L324.7,786.1 L328.7,785.9 L332.7,785.6 L336.7,785.4 L340.7,785.2 L344.7,784.9 L348.8,784.7 L352.8,784.4 L356.8,784.1 L360.8,783.8 L364.8,783.5 L368.8,783.2 L372.8,782.8 L376.8,782.5 L380.8,782.1 L384.9,781.7 L388.9,781.3 L392.9,780.9 L396.9,780.5 L399.3,780.2 L400.9,780.0 L404.9,779.5 L408.9,779.0 L412.9,778.4 L417.0,777.8 L421.0,777.2 L425.0,776.6 L429.0,775.9 L433.0,775.2 L437.0,774.5 L441.0,773.7 L445.0,773.0 L449.0,772.2 L453.1,771.4 L457.1,770.6 L461.1,769.8 L465.1,769.0 L469.1,768.2 L473.1,767.4 L477.1,766.6 L481.1,765.8 L485.2,765.0 L489.2,764.2 L493.2,763.4 L497.2,762.6 L501.2,761.9 L505.2,761.1 L509.2,760.4 L513.2,759.7 L517.3,759.0 L521.3,758.3 L525.3,757.7 L529.3,757.1 L533.3,756.5 L537.3,756.0 L541.3,755.4 L545.3,755.0 L549.3,754.5 L550.9,754.4 L553.4,754.1 L557.4,753.8 L561.4,753.4 L565.4,753.0 L569.4,752.7 L573.4,752.4 L577.4,752.1 L581.4,751.8 L585.5,751.5 L589.5,751.2 L593.5,750.9 L597.5,750.7 L601.5,750.5 L605.5,750.2 L609.5,750.0 L613.5,749.8 L617.5,749.6 L621.6,749.4 L625.6,749.2 L629.6,749.1 L633.6,748.9 L637.6,748.8 L641.6,748.6 L645.6,748.5 L649.6,748.3 L653.7,748.2 L657.7,748.1 L661.7,747.9 L665.7,747.8 L669.7,747.7 L673.7,747.6 L677.7,747.5 L681.7,747.4 L685.8,747.3 L689.8,747.2 L693.8,747.1 L697.8,747.0 L701.8,746.9" stroke="#e6ae59"/>
<circle cx="701.8" cy="746.9" r="3" fill="#e6ae59" stroke="none"/>
</g>
<rect x="475" y="289" width="304" height="600" fill="url(#gHi)"/>
<rect x="475" y="289" width="2" height="600" fill="#2394df" fill-opacity="0.18"/>
<rect x="777" y="240" width="2" height="49" fill="#2394df" fill-opacity="0.35"/>
<rect x="777" y="289" width="2" height="600" fill="#2394df" fill-opacity="0.22"/>
<circle cx="777.2" cy="514.7" r="7.85" fill="#2394df" stroke="#fff" stroke-width="1.9"/>
<circle cx="777.2" cy="819.0" r="7.85" fill="#71e7d6" stroke="#fff" stroke-width="1.9"/>
<g id="tooltip"><rect x="777" y="32" width="680" height="208" fill="#000"/>
<rect x="793" y="82.1" width="648" height="2" fill="#3b3b3b"/>
<rect x="793" y="116.1" width="648" height="2" fill="#3b3b3b"/>
<rect x="793" y="151.6" width="648" height="2" fill="#3b3b3b"/>
<rect x="793" y="186.2" width="648" height="2" fill="#3b3b3b"/>
<rect x="793" y="222.0" width="648" height="2" fill="#3b3b3b"/>
</g>
<g id="legend">
<rect x="32" y="968" width="164" height="64" rx="7" fill="#2c313b"/>
<circle cx="64" cy="996.2" r="8" fill="#2394df"/>
<rect x="204" y="968" width="166" height="64" rx="7" fill="#2c313b"/>
<circle cx="236.1" cy="996.2" r="8" fill="#71e7d6"/>
<rect x="378" y="968" width="232" height="64" rx="7" fill="#2c313b"/>
<circle cx="409.9" cy="996.2" r="8" fill="#c0478e"/>
<rect x="618" y="968" width="222" height="64" rx="7" fill="#2c313b"/>
<circle cx="649.9" cy="996.2" r="8" fill="#e6ae59"/>
</g>
<g id="labels" filter="url(#noop)">
<text x="48.00" y="272.3" font-size="22.7" font-weight="normal" fill="#ffffff" stroke="#ffffff" stroke-width="0.4" textLength="50.03" lengthAdjust="spacingAndGlyphs"><tspan font-size="21.2">₹</tspan>22b</text>
<text x="47.96" y="822.3" font-size="22.7" font-weight="normal" fill="#ffffff" stroke="#ffffff" stroke-width="0.4" textLength="26.08" lengthAdjust="spacingAndGlyphs"><tspan font-size="21.2">₹</tspan>0</text>
<text x="47.47" y="872.0" font-size="22.7" font-weight="normal" fill="#ffffff" stroke="#ffffff" stroke-width="0.4" textLength="47.06" lengthAdjust="spacingAndGlyphs">-<tspan font-size="21.2">₹</tspan>2b</text>
<text x="300.98" y="921.9" font-size="22.7" font-weight="normal" fill="#ffffff" stroke="#ffffff" stroke-width="0.45" textLength="48.52" lengthAdjust="spacingAndGlyphs">2024</text>
<text x="603.48" y="921.9" font-size="22.7" font-weight="normal" fill="#ffffff" stroke="#ffffff" stroke-width="0.45" textLength="48.52" lengthAdjust="spacingAndGlyphs">2025</text>
<text x="905.98" y="921.9" font-size="22.7" font-weight="normal" fill="#ffffff" stroke="#ffffff" stroke-width="0.45" textLength="48.06" lengthAdjust="spacingAndGlyphs">2026</text>
<text x="1208.47" y="921.9" font-size="22.7" font-weight="normal" fill="#ffffff" stroke="#ffffff" stroke-width="0.45" textLength="49.53" lengthAdjust="spacingAndGlyphs">2027</text>
<text x="1510.47" y="921.9" font-size="22.7" font-weight="normal" fill="#ffffff" stroke="#ffffff" stroke-width="0.45" textLength="48.05" lengthAdjust="spacingAndGlyphs">2028</text>
<text x="714.48" y="319.8" font-size="22.7" font-weight="normal" fill="#ffffff" stroke="#ffffff" stroke-width="0.5" textLength="45.03" lengthAdjust="spacingAndGlyphs">Past</text>
<text x="793.00" y="319.8" font-size="22.7" font-weight="normal" fill="#878a91" stroke="#878a91" stroke-width="0.4" textLength="191.00" lengthAdjust="spacingAndGlyphs">Analysts Forecasts</text>
<text x="793.50" y="69.9" font-size="22.7" font-weight="normal" fill="#ffffff" stroke="#ffffff" stroke-width="0.6" textLength="119.50" lengthAdjust="spacingAndGlyphs">Jun 30 2025</text>
<text x="792.47" y="105.7" font-size="22.7" font-weight="normal" fill="#8c8c8e" stroke="#8c8c8e" stroke-width="0.45" textLength="84.55" lengthAdjust="spacingAndGlyphs">Revenue</text>
<text x="792.47" y="139.4" font-size="22.7" font-weight="normal" fill="#8c8c8e" stroke="#8c8c8e" stroke-width="0.45" textLength="86.03" lengthAdjust="spacingAndGlyphs">Earnings</text>
<text x="792.49" y="175.8" font-size="22.7" font-weight="normal" fill="#8c8c8e" stroke="#8c8c8e" stroke-width="0.45" textLength="152.01" lengthAdjust="spacingAndGlyphs">Free Cash Flow</text>
<text x="792.49" y="209.6" font-size="22.7" font-weight="normal" fill="#8c8c8e" stroke="#8c8c8e" stroke-width="0.45" textLength="143.02" lengthAdjust="spacingAndGlyphs">Cash From Op</text>
<text x="1148.98" y="105.7" font-size="22.7" font-weight="normal" fill="#2394df" stroke="#2394df" stroke-width="0.5" textLength="92.03" lengthAdjust="spacingAndGlyphs"><tspan font-size="21.2">₹</tspan>12.927b</text>
<text x="1247.98" y="105.7" font-size="22.7" font-weight="normal" fill="#8c8c8e" stroke="#8c8c8e" stroke-width="0.45" textLength="24.02" lengthAdjust="spacingAndGlyphs">/yr</text>
<text x="1148.98" y="139.4" font-size="22.7" font-weight="normal" fill="#71e7d6" stroke="#71e7d6" stroke-width="0.5" textLength="111.04" lengthAdjust="spacingAndGlyphs"><tspan font-size="21.2">₹</tspan>750.590m</text>
<text x="1267.47" y="139.4" font-size="22.7" font-weight="normal" fill="#8c8c8e" stroke="#8c8c8e" stroke-width="0.45" textLength="25.04" lengthAdjust="spacingAndGlyphs">/yr</text>
<text x="1148.99" y="175.8" font-size="22.7" font-weight="normal" fill="#5b5b5c" stroke="#5b5b5c" stroke-width="0.45" textLength="76.50" lengthAdjust="spacingAndGlyphs">No data</text>
<text x="1148.99" y="209.6" font-size="22.7" font-weight="normal" fill="#5b5b5c" stroke="#5b5b5c" stroke-width="0.45" textLength="76.50" lengthAdjust="spacingAndGlyphs">No data</text>
<text x="87.47" y="1004.2" font-size="22.7" font-weight="normal" fill="#ffffff" stroke="#ffffff" stroke-width="0.5" textLength="84.54" lengthAdjust="spacingAndGlyphs">Revenue</text>
<text x="258.96" y="1004.2" font-size="22.7" font-weight="normal" fill="#ffffff" stroke="#ffffff" stroke-width="0.5" textLength="86.06" lengthAdjust="spacingAndGlyphs">Earnings</text>
<text x="432.98" y="1004.2" font-size="22.7" font-weight="normal" fill="#ffffff" stroke="#ffffff" stroke-width="0.5" textLength="152.51" lengthAdjust="spacingAndGlyphs">Free Cash Flow</text>
<text x="674.49" y="1004.2" font-size="22.7" font-weight="normal" fill="#ffffff" stroke="#ffffff" stroke-width="0.5" textLength="141.52" lengthAdjust="spacingAndGlyphs">Cash From Op</text>
</g>
</svg></body></html>
